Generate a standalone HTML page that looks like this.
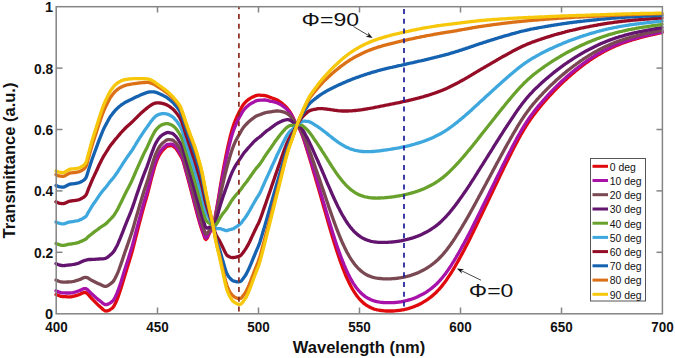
<!DOCTYPE html>
<html><head><meta charset="utf-8"><style>
html,body{margin:0;padding:0;background:#fff;}
body{width:675px;height:358px;overflow:hidden;}
svg{display:block;font-family:"Liberation Sans",sans-serif;}
</style></head><body>
<svg width="675" height="358" viewBox="0 0 675 358" xmlns="http://www.w3.org/2000/svg">
<rect width="675" height="358" fill="#fff"/>
<g fill="none" stroke-width="3.3" stroke-linejoin="round" stroke-linecap="round">
<path d="M56.0,294.5 L57.0,294.9 L58.0,295.3 L59.0,295.7 L60.0,296.0 L61.0,296.3 L62.0,296.5 L63.0,296.6 L64.0,296.6 L65.0,296.7 L66.0,296.7 L67.0,296.8 L68.0,296.8 L69.0,296.8 L70.0,296.8 L71.0,296.8 L72.0,296.6 L73.0,296.4 L74.0,296.2 L75.0,295.9 L76.0,295.6 L77.0,295.3 L78.0,295.0 L79.0,294.6 L80.0,294.2 L81.0,293.7 L82.0,293.2 L83.0,292.8 L84.0,292.5 L85.0,292.4 L86.0,292.6 L87.0,293.3 L88.0,294.3 L89.0,295.4 L90.0,296.6 L91.0,297.8 L92.0,298.9 L93.0,299.9 L94.0,300.9 L95.0,301.9 L96.0,302.9 L97.0,303.9 L98.0,304.9 L99.0,305.8 L100.0,306.7 L101.0,307.6 L102.0,308.5 L103.0,309.5 L104.0,310.2 L105.0,310.8 L106.0,311.0 L107.0,310.9 L108.0,310.6 L109.0,310.2 L110.0,309.7 L111.0,309.0 L112.0,308.3 L113.0,307.4 L114.0,306.0 L115.0,304.1 L116.0,302.0 L117.0,299.7 L118.0,297.2 L119.0,294.3 L120.0,291.3 L121.0,288.2 L122.0,285.0 L123.0,281.7 L124.0,278.3 L125.0,275.0 L126.0,271.7 L127.0,268.5 L128.0,265.3 L129.0,262.0 L130.0,258.7 L131.0,255.5 L132.0,252.0 L133.0,248.3 L134.0,244.4 L135.0,240.3 L136.0,236.3 L137.0,232.5 L138.0,228.6 L139.0,224.7 L140.0,220.9 L141.0,217.1 L142.0,213.3 L143.0,209.6 L144.0,206.0 L145.0,202.5 L146.0,199.2 L147.0,195.8 L148.0,192.1 L149.0,188.2 L150.0,184.1 L151.0,180.2 L152.0,176.4 L153.0,172.7 L154.0,169.0 L155.0,165.6 L156.0,162.7 L157.0,160.2 L158.0,157.8 L159.0,155.8 L160.0,154.0 L161.0,152.5 L162.0,151.2 L163.0,150.0 L164.0,149.0 L165.0,148.0 L166.0,147.1 L167.0,146.4 L168.0,146.0 L169.0,145.9 L170.0,145.8 L171.0,145.7 L172.0,145.7 L173.0,146.1 L174.0,146.8 L175.0,147.7 L176.0,148.7 L177.0,150.0 L178.0,151.5 L179.0,153.2 L180.0,154.8 L181.0,156.5 L182.0,158.4 L183.0,160.8 L184.0,164.0 L185.0,167.7 L186.0,171.5 L187.0,175.1 L188.0,178.8 L189.0,182.5 L190.0,186.3 L191.0,190.1 L192.0,194.0 L193.0,197.9 L194.0,201.8 L195.0,205.7 L196.0,209.5 L197.0,213.3 L198.0,217.0 L199.0,220.6 L200.0,224.0 L201.0,227.2 L202.0,230.2 L203.0,233.0 L204.0,235.8 L205.0,238.6 L206.0,239.5 L207.0,238.4 L208.0,236.4 L209.0,234.0 L210.0,232.1 L211.0,230.2 L212.0,228.3 L213.0,225.9 L214.0,222.8 L215.0,218.1 L216.0,212.5 L217.0,206.7 L218.0,201.0 L219.0,194.9 L220.0,188.7 L221.0,182.6 L222.0,176.9 L223.0,171.4 L224.0,165.9 L225.0,160.7 L226.0,155.6 L227.0,150.8 L228.0,146.2 L229.0,141.8 L230.0,137.5 L231.0,133.6 L232.0,130.0 L233.0,126.8 L234.0,123.9 L235.0,121.2 L236.0,118.8 L237.0,116.5 L238.0,114.4 L239.0,112.3 L240.0,110.4 L241.0,108.5 L242.0,106.7 L243.0,105.1 L244.0,103.8 L245.0,102.6 L246.0,101.6 L247.0,100.7 L248.0,99.9 L249.0,99.1 L250.0,98.5 L251.0,97.9 L252.0,97.3 L253.0,96.9 L254.0,96.4 L255.0,95.9 L256.0,95.6 L257.0,95.3 L258.0,95.2 L259.0,95.2 L260.0,95.2 L261.0,95.3 L262.0,95.3 L263.0,95.4 L264.0,95.5 L265.0,95.6 L266.0,95.8 L267.0,96.1 L268.0,96.5 L269.0,96.9 L270.0,97.3 L271.0,97.6 L272.0,98.0 L273.0,98.3 L274.0,98.7 L275.0,99.1 L276.0,99.5 L277.0,99.9 L278.0,100.5 L279.0,101.1 L280.0,101.8 L281.0,102.5 L282.0,103.3 L283.0,104.2 L284.0,105.0 L285.0,106.0 L286.0,107.0 L287.0,108.0 L288.0,109.2 L289.0,110.5 L290.0,111.9 L291.0,113.5 L292.0,115.4 L293.0,117.5 L294.0,119.7 L295.0,121.8 L296.0,123.8 L297.0,125.5 L298.0,126.9 L299.0,128.3 L300.0,129.9 L301.0,132.0 L302.0,134.4 L303.0,137.2 L304.0,140.2 L305.0,143.3 L306.0,146.5 L307.0,149.7 L308.0,152.9 L309.0,156.2 L310.0,159.5 L311.0,162.9 L312.0,166.3 L313.0,169.7 L314.0,173.2 L315.0,176.6 L316.0,180.1 L317.0,183.5 L318.0,186.9 L319.0,190.4 L320.0,193.8 L321.0,197.4 L322.0,200.9 L323.0,204.4 L324.0,207.9 L325.0,211.4 L326.0,214.9 L327.0,218.4 L328.0,221.9 L329.0,225.3 L330.0,228.7 L331.0,232.1 L332.0,235.5 L333.0,238.8 L334.0,242.1 L335.0,245.3 L336.0,248.5 L337.0,251.6 L338.0,254.6 L339.0,257.5 L340.0,260.4 L341.0,263.2 L342.0,265.9 L343.0,268.6 L344.0,271.1 L345.0,273.6 L346.0,276.0 L347.0,278.3 L348.0,280.4 L349.0,282.5 L350.0,284.6 L351.0,286.5 L352.0,288.3 L353.0,290.0 L354.0,291.6 L355.0,293.1 L356.0,294.6 L357.0,296.0 L358.0,297.3 L359.0,298.5 L360.0,299.6 L361.0,300.7 L362.0,301.6 L363.0,302.6 L364.0,303.4 L365.0,304.2 L366.0,305.0 L367.0,305.6 L368.0,306.2 L369.0,306.8 L370.0,307.3 L371.0,307.8 L372.0,308.2 L373.0,308.6 L374.0,309.0 L375.0,309.3 L376.0,309.5 L377.0,309.8 L378.0,310.0 L379.0,310.2 L380.0,310.4 L381.0,310.5 L382.0,310.6 L383.0,310.7 L384.0,310.8 L385.0,310.9 L386.0,311.0 L387.0,311.0 L388.0,311.0 L389.0,311.0 L390.0,311.0 L391.0,311.0 L392.0,311.0 L393.0,311.0 L394.0,310.9 L395.0,310.8 L396.0,310.7 L397.0,310.7 L398.0,310.5 L399.0,310.4 L400.0,310.3 L401.0,310.1 L402.0,309.9 L403.0,309.8 L404.0,309.6 L405.0,309.3 L406.0,309.1 L407.0,308.8 L408.0,308.6 L409.0,308.3 L410.0,308.0 L411.0,307.7 L412.0,307.3 L413.0,307.0 L414.0,306.6 L415.0,306.2 L416.0,305.8 L417.0,305.4 L418.0,304.9 L419.0,304.4 L420.0,303.9 L421.0,303.4 L422.0,302.9 L423.0,302.3 L424.0,301.7 L425.0,301.1 L426.0,300.5 L427.0,299.8 L428.0,299.1 L429.0,298.4 L430.0,297.7 L431.0,296.9 L432.0,296.1 L433.0,295.2 L434.0,294.3 L435.0,293.4 L436.0,292.5 L437.0,291.5 L438.0,290.4 L439.0,289.4 L440.0,288.2 L441.0,287.1 L442.0,285.9 L443.0,284.6 L444.0,283.3 L445.0,282.0 L446.0,280.6 L447.0,279.2 L448.0,277.7 L449.0,276.2 L450.0,274.7 L451.0,273.1 L452.0,271.5 L453.0,269.8 L454.0,268.2 L455.0,266.5 L456.0,264.7 L457.0,263.0 L458.0,261.2 L459.0,259.4 L460.0,257.6 L461.0,255.7 L462.0,253.9 L463.0,252.0 L464.0,250.2 L465.0,248.3 L466.0,246.3 L467.0,244.4 L468.0,242.4 L469.0,240.5 L470.0,238.5 L471.0,236.5 L472.0,234.4 L473.0,232.4 L474.0,230.3 L475.0,228.2 L476.0,226.2 L477.0,224.1 L478.0,222.0 L479.0,219.9 L480.0,217.8 L481.0,215.7 L482.0,213.7 L483.0,211.6 L484.0,209.5 L485.0,207.4 L486.0,205.3 L487.0,203.2 L488.0,201.1 L489.0,199.0 L490.0,196.9 L491.0,194.8 L492.0,192.7 L493.0,190.6 L494.0,188.5 L495.0,186.4 L496.0,184.3 L497.0,182.2 L498.0,180.1 L499.0,178.0 L500.0,175.9 L501.0,173.8 L502.0,171.8 L503.0,169.7 L504.0,167.6 L505.0,165.6 L506.0,163.6 L507.0,161.5 L508.0,159.5 L509.0,157.5 L510.0,155.5 L511.0,153.5 L512.0,151.6 L513.0,149.6 L514.0,147.6 L515.0,145.7 L516.0,143.8 L517.0,141.9 L518.0,140.0 L519.0,138.1 L520.0,136.3 L521.0,134.5 L522.0,132.8 L523.0,131.1 L524.0,129.4 L525.0,127.8 L526.0,126.1 L527.0,124.6 L528.0,123.0 L529.0,121.5 L530.0,120.1 L531.0,118.6 L532.0,117.2 L533.0,115.9 L534.0,114.5 L535.0,113.2 L536.0,111.9 L537.0,110.6 L538.0,109.4 L539.0,108.1 L540.0,106.9 L541.0,105.7 L542.0,104.5 L543.0,103.3 L544.0,102.2 L545.0,101.0 L546.0,99.9 L547.0,98.7 L548.0,97.6 L549.0,96.5 L550.0,95.4 L551.0,94.3 L552.0,93.3 L553.0,92.2 L554.0,91.1 L555.0,90.1 L556.0,89.1 L557.0,88.0 L558.0,87.0 L559.0,86.0 L560.0,85.1 L561.0,84.1 L562.0,83.1 L563.0,82.2 L564.0,81.2 L565.0,80.3 L566.0,79.4 L567.0,78.5 L568.0,77.6 L569.0,76.7 L570.0,75.8 L571.0,74.9 L572.0,74.1 L573.0,73.2 L574.0,72.4 L575.0,71.5 L576.0,70.7 L577.0,69.9 L578.0,69.1 L579.0,68.3 L580.0,67.5 L581.0,66.8 L582.0,66.0 L583.0,65.2 L584.0,64.5 L585.0,63.8 L586.0,63.0 L587.0,62.3 L588.0,61.6 L589.0,60.9 L590.0,60.2 L591.0,59.5 L592.0,58.9 L593.0,58.2 L594.0,57.5 L595.0,56.9 L596.0,56.3 L597.0,55.7 L598.0,55.0 L599.0,54.4 L600.0,53.9 L601.0,53.3 L602.0,52.7 L603.0,52.2 L604.0,51.6 L605.0,51.1 L606.0,50.5 L607.0,50.0 L608.0,49.5 L609.0,49.0 L610.0,48.5 L611.0,48.0 L612.0,47.6 L613.0,47.1 L614.0,46.7 L615.0,46.2 L616.0,45.8 L617.0,45.4 L618.0,45.0 L619.0,44.6 L620.0,44.2 L621.0,43.8 L622.0,43.4 L623.0,43.0 L624.0,42.7 L625.0,42.3 L626.0,42.0 L627.0,41.6 L628.0,41.3 L629.0,40.9 L630.0,40.6 L631.0,40.3 L632.0,40.0 L633.0,39.7 L634.0,39.4 L635.0,39.1 L636.0,38.8 L637.0,38.5 L638.0,38.3 L639.0,38.0 L640.0,37.7 L641.0,37.4 L642.0,37.2 L643.0,36.9 L644.0,36.7 L645.0,36.4 L646.0,36.2 L647.0,35.9 L648.0,35.7 L649.0,35.5 L650.0,35.2 L651.0,35.0 L652.0,34.8 L653.0,34.5 L654.0,34.3 L655.0,34.1 L656.0,33.9 L657.0,33.6 L658.0,33.4 L659.0,33.2 L660.0,33.0 L661.0,32.8 L662.0,32.5" stroke="#e00a0e"/>
<path d="M56.0,290.8 L57.0,291.2 L58.0,291.6 L59.0,292.0 L60.0,292.3 L61.0,292.6 L62.0,292.8 L63.0,292.9 L64.0,292.9 L65.0,292.9 L66.0,293.0 L67.0,293.0 L68.0,293.0 L69.0,293.0 L70.0,293.0 L71.0,292.9 L72.0,292.8 L73.0,292.6 L74.0,292.3 L75.0,292.1 L76.0,291.8 L77.0,291.5 L78.0,291.2 L79.0,290.8 L80.0,290.4 L81.0,289.9 L82.0,289.4 L83.0,289.0 L84.0,288.7 L85.0,288.5 L86.0,288.7 L87.0,289.3 L88.0,290.1 L89.0,291.1 L90.0,292.2 L91.0,293.2 L92.0,294.1 L93.0,295.0 L94.0,295.9 L95.0,296.8 L96.0,297.7 L97.0,298.5 L98.0,299.4 L99.0,300.2 L100.0,300.9 L101.0,301.7 L102.0,302.5 L103.0,303.4 L104.0,304.0 L105.0,304.5 L106.0,304.6 L107.0,304.5 L108.0,304.1 L109.0,303.7 L110.0,303.1 L111.0,302.4 L112.0,301.6 L113.0,300.8 L114.0,299.4 L115.0,297.5 L116.0,295.4 L117.0,293.2 L118.0,290.7 L119.0,287.9 L120.0,284.9 L121.0,281.9 L122.0,278.8 L123.0,275.6 L124.0,272.3 L125.0,269.1 L126.0,265.9 L127.0,262.8 L128.0,259.7 L129.0,256.5 L130.0,253.3 L131.0,250.1 L132.0,246.8 L133.0,243.2 L134.0,239.4 L135.0,235.5 L136.0,231.6 L137.0,227.8 L138.0,224.1 L139.0,220.3 L140.0,216.6 L141.0,212.9 L142.0,209.3 L143.0,205.7 L144.0,202.2 L145.0,198.8 L146.0,195.6 L147.0,192.3 L148.0,188.7 L149.0,184.9 L150.0,181.0 L151.0,177.1 L152.0,173.5 L153.0,169.9 L154.0,166.4 L155.0,163.1 L156.0,160.3 L157.0,157.9 L158.0,155.6 L159.0,153.6 L160.0,151.9 L161.0,150.5 L162.0,149.3 L163.0,148.1 L164.0,147.2 L165.0,146.3 L166.0,145.4 L167.0,144.7 L168.0,144.4 L169.0,144.3 L170.0,144.2 L171.0,144.2 L172.0,144.2 L173.0,144.6 L174.0,145.3 L175.0,146.3 L176.0,147.2 L177.0,148.5 L178.0,150.0 L179.0,151.7 L180.0,153.3 L181.0,155.0 L182.0,157.0 L183.0,159.4 L184.0,162.6 L185.0,166.3 L186.0,170.0 L187.0,173.6 L188.0,177.3 L189.0,180.9 L190.0,184.7 L191.0,188.5 L192.0,192.3 L193.0,196.2 L194.0,200.1 L195.0,203.9 L196.0,207.7 L197.0,211.5 L198.0,215.2 L199.0,218.8 L200.0,222.2 L201.0,225.4 L202.0,228.4 L203.0,231.3 L204.0,234.2 L205.0,237.0 L206.0,238.0 L207.0,237.2 L208.0,235.3 L209.0,233.2 L210.0,231.4 L211.0,229.8 L212.0,228.1 L213.0,225.9 L214.0,223.0 L215.0,218.7 L216.0,213.4 L217.0,207.9 L218.0,202.5 L219.0,196.8 L220.0,190.9 L221.0,185.1 L222.0,179.7 L223.0,174.4 L224.0,169.3 L225.0,164.3 L226.0,159.5 L227.0,155.0 L228.0,150.6 L229.0,146.4 L230.0,142.4 L231.0,138.5 L232.0,135.1 L233.0,132.0 L234.0,129.2 L235.0,126.7 L236.0,124.3 L237.0,122.1 L238.0,120.1 L239.0,118.1 L240.0,116.2 L241.0,114.4 L242.0,112.6 L243.0,111.1 L244.0,109.7 L245.0,108.5 L246.0,107.5 L247.0,106.6 L248.0,105.7 L249.0,104.9 L250.0,104.2 L251.0,103.5 L252.0,102.9 L253.0,102.4 L254.0,101.9 L255.0,101.3 L256.0,100.9 L257.0,100.6 L258.0,100.4 L259.0,100.3 L260.0,100.2 L261.0,100.2 L262.0,100.1 L263.0,100.1 L264.0,100.0 L265.0,100.0 L266.0,100.1 L267.0,100.3 L268.0,100.5 L269.0,100.8 L270.0,101.1 L271.0,101.3 L272.0,101.5 L273.0,101.7 L274.0,101.9 L275.0,102.2 L276.0,102.5 L277.0,102.8 L278.0,103.2 L279.0,103.7 L280.0,104.2 L281.0,104.8 L282.0,105.5 L283.0,106.1 L284.0,106.9 L285.0,107.7 L286.0,108.5 L287.0,109.5 L288.0,110.5 L289.0,111.6 L290.0,112.9 L291.0,114.3 L292.0,116.1 L293.0,118.1 L294.0,120.1 L295.0,122.1 L296.0,123.9 L297.0,125.5 L298.0,126.8 L299.0,128.1 L300.0,129.5 L301.0,131.4 L302.0,133.8 L303.0,136.4 L304.0,139.2 L305.0,142.2 L306.0,145.2 L307.0,148.2 L308.0,151.3 L309.0,154.4 L310.0,157.6 L311.0,160.8 L312.0,164.1 L313.0,167.4 L314.0,170.7 L315.0,174.0 L316.0,177.3 L317.0,180.5 L318.0,183.8 L319.0,187.1 L320.0,190.5 L321.0,193.8 L322.0,197.2 L323.0,200.6 L324.0,204.0 L325.0,207.3 L326.0,210.7 L327.0,214.0 L328.0,217.4 L329.0,220.7 L330.0,224.0 L331.0,227.2 L332.0,230.5 L333.0,233.7 L334.0,236.8 L335.0,239.9 L336.0,242.9 L337.0,245.9 L338.0,248.8 L339.0,251.6 L340.0,254.4 L341.0,257.1 L342.0,259.7 L343.0,262.2 L344.0,264.7 L345.0,267.0 L346.0,269.3 L347.0,271.5 L348.0,273.6 L349.0,275.6 L350.0,277.6 L351.0,279.4 L352.0,281.1 L353.0,282.8 L354.0,284.3 L355.0,285.8 L356.0,287.2 L357.0,288.5 L358.0,289.7 L359.0,290.9 L360.0,292.0 L361.0,293.0 L362.0,293.9 L363.0,294.8 L364.0,295.6 L365.0,296.4 L366.0,297.1 L367.0,297.7 L368.0,298.3 L369.0,298.8 L370.0,299.3 L371.0,299.8 L372.0,300.2 L373.0,300.5 L374.0,300.9 L375.0,301.1 L376.0,301.4 L377.0,301.6 L378.0,301.8 L379.0,302.0 L380.0,302.2 L381.0,302.3 L382.0,302.4 L383.0,302.5 L384.0,302.6 L385.0,302.6 L386.0,302.7 L387.0,302.7 L388.0,302.7 L389.0,302.7 L390.0,302.7 L391.0,302.7 L392.0,302.7 L393.0,302.6 L394.0,302.6 L395.0,302.5 L396.0,302.4 L397.0,302.3 L398.0,302.2 L399.0,302.1 L400.0,301.9 L401.0,301.8 L402.0,301.6 L403.0,301.4 L404.0,301.2 L405.0,301.0 L406.0,300.7 L407.0,300.5 L408.0,300.2 L409.0,299.9 L410.0,299.6 L411.0,299.3 L412.0,299.0 L413.0,298.6 L414.0,298.3 L415.0,297.9 L416.0,297.5 L417.0,297.0 L418.0,296.6 L419.0,296.1 L420.0,295.6 L421.0,295.1 L422.0,294.6 L423.0,294.1 L424.0,293.5 L425.0,292.9 L426.0,292.3 L427.0,291.6 L428.0,290.9 L429.0,290.2 L430.0,289.5 L431.0,288.7 L432.0,287.9 L433.0,287.1 L434.0,286.2 L435.0,285.4 L436.0,284.4 L437.0,283.5 L438.0,282.5 L439.0,281.4 L440.0,280.3 L441.0,279.2 L442.0,278.0 L443.0,276.8 L444.0,275.5 L445.0,274.2 L446.0,272.9 L447.0,271.5 L448.0,270.1 L449.0,268.6 L450.0,267.1 L451.0,265.6 L452.0,264.0 L453.0,262.4 L454.0,260.8 L455.0,259.1 L456.0,257.5 L457.0,255.7 L458.0,254.0 L459.0,252.3 L460.0,250.5 L461.0,248.7 L462.0,246.9 L463.0,245.1 L464.0,243.3 L465.0,241.4 L466.0,239.6 L467.0,237.7 L468.0,235.8 L469.0,233.9 L470.0,231.9 L471.0,230.0 L472.0,228.0 L473.0,226.0 L474.0,224.0 L475.0,222.0 L476.0,220.0 L477.0,218.0 L478.0,215.9 L479.0,213.9 L480.0,211.9 L481.0,209.9 L482.0,207.8 L483.0,205.8 L484.0,203.8 L485.0,201.8 L486.0,199.7 L487.0,197.7 L488.0,195.7 L489.0,193.6 L490.0,191.6 L491.0,189.6 L492.0,187.5 L493.0,185.5 L494.0,183.4 L495.0,181.4 L496.0,179.3 L497.0,177.3 L498.0,175.2 L499.0,173.2 L500.0,171.2 L501.0,169.2 L502.0,167.1 L503.0,165.1 L504.0,163.2 L505.0,161.2 L506.0,159.2 L507.0,157.2 L508.0,155.3 L509.0,153.3 L510.0,151.4 L511.0,149.5 L512.0,147.5 L513.0,145.6 L514.0,143.7 L515.0,141.8 L516.0,140.0 L517.0,138.1 L518.0,136.3 L519.0,134.5 L520.0,132.8 L521.0,131.0 L522.0,129.3 L523.0,127.7 L524.0,126.0 L525.0,124.4 L526.0,122.9 L527.0,121.3 L528.0,119.9 L529.0,118.4 L530.0,117.0 L531.0,115.6 L532.0,114.2 L533.0,112.9 L534.0,111.6 L535.0,110.3 L536.0,109.0 L537.0,107.8 L538.0,106.6 L539.0,105.4 L540.0,104.2 L541.0,103.0 L542.0,101.9 L543.0,100.7 L544.0,99.6 L545.0,98.5 L546.0,97.4 L547.0,96.3 L548.0,95.2 L549.0,94.1 L550.0,93.0 L551.0,92.0 L552.0,90.9 L553.0,89.9 L554.0,88.9 L555.0,87.9 L556.0,86.9 L557.0,85.9 L558.0,84.9 L559.0,83.9 L560.0,83.0 L561.0,82.0 L562.0,81.1 L563.0,80.2 L564.0,79.3 L565.0,78.3 L566.0,77.5 L567.0,76.6 L568.0,75.7 L569.0,74.8 L570.0,74.0 L571.0,73.1 L572.0,72.3 L573.0,71.5 L574.0,70.7 L575.0,69.9 L576.0,69.1 L577.0,68.3 L578.0,67.5 L579.0,66.7 L580.0,66.0 L581.0,65.2 L582.0,64.5 L583.0,63.7 L584.0,63.0 L585.0,62.3 L586.0,61.6 L587.0,60.9 L588.0,60.2 L589.0,59.5 L590.0,58.8 L591.0,58.2 L592.0,57.5 L593.0,56.9 L594.0,56.3 L595.0,55.6 L596.0,55.0 L597.0,54.4 L598.0,53.8 L599.0,53.3 L600.0,52.7 L601.0,52.1 L602.0,51.6 L603.0,51.0 L604.0,50.5 L605.0,50.0 L606.0,49.5 L607.0,49.0 L608.0,48.5 L609.0,48.0 L610.0,47.5 L611.0,47.0 L612.0,46.6 L613.0,46.1 L614.0,45.7 L615.0,45.3 L616.0,44.8 L617.0,44.4 L618.0,44.0 L619.0,43.6 L620.0,43.3 L621.0,42.9 L622.0,42.5 L623.0,42.1 L624.0,41.8 L625.0,41.4 L626.0,41.1 L627.0,40.8 L628.0,40.4 L629.0,40.1 L630.0,39.8 L631.0,39.5 L632.0,39.2 L633.0,38.9 L634.0,38.6 L635.0,38.3 L636.0,38.1 L637.0,37.8 L638.0,37.5 L639.0,37.2 L640.0,37.0 L641.0,36.7 L642.0,36.5 L643.0,36.2 L644.0,36.0 L645.0,35.7 L646.0,35.5 L647.0,35.3 L648.0,35.0 L649.0,34.8 L650.0,34.6 L651.0,34.3 L652.0,34.1 L653.0,33.9 L654.0,33.7 L655.0,33.5 L656.0,33.2 L657.0,33.0 L658.0,32.8 L659.0,32.6 L660.0,32.4 L661.0,32.2 L662.0,32.0" stroke="#a812a8"/>
<path d="M56.0,280.0 L57.0,280.5 L58.0,280.9 L59.0,281.3 L60.0,281.6 L61.0,281.8 L62.0,282.0 L63.0,282.1 L64.0,282.1 L65.0,282.1 L66.0,282.1 L67.0,282.0 L68.0,282.0 L69.0,281.9 L70.0,281.9 L71.0,281.8 L72.0,281.7 L73.0,281.5 L74.0,281.3 L75.0,281.0 L76.0,280.7 L77.0,280.4 L78.0,280.2 L79.0,279.8 L80.0,279.4 L81.0,278.9 L82.0,278.4 L83.0,278.0 L84.0,277.6 L85.0,277.4 L86.0,277.4 L87.0,277.6 L88.0,278.0 L89.0,278.6 L90.0,279.3 L91.0,279.9 L92.0,280.4 L93.0,280.9 L94.0,281.4 L95.0,282.0 L96.0,282.5 L97.0,283.0 L98.0,283.5 L99.0,283.9 L100.0,284.3 L101.0,284.8 L102.0,285.3 L103.0,285.7 L104.0,286.1 L105.0,286.3 L106.0,286.3 L107.0,286.0 L108.0,285.5 L109.0,284.9 L110.0,284.2 L111.0,283.4 L112.0,282.6 L113.0,281.7 L114.0,280.3 L115.0,278.5 L116.0,276.5 L117.0,274.4 L118.0,272.1 L119.0,269.5 L120.0,266.7 L121.0,263.9 L122.0,261.1 L123.0,258.1 L124.0,255.1 L125.0,252.1 L126.0,249.2 L127.0,246.4 L128.0,243.5 L129.0,240.6 L130.0,237.7 L131.0,234.8 L132.0,231.7 L133.0,228.4 L134.0,225.0 L135.0,221.4 L136.0,217.9 L137.0,214.5 L138.0,211.1 L139.0,207.6 L140.0,204.2 L141.0,200.9 L142.0,197.6 L143.0,194.3 L144.0,191.1 L145.0,188.1 L146.0,185.1 L147.0,182.1 L148.0,178.9 L149.0,175.4 L150.0,171.9 L151.0,168.5 L152.0,165.2 L153.0,162.0 L154.0,158.8 L155.0,155.9 L156.0,153.4 L157.0,151.2 L158.0,149.3 L159.0,147.5 L160.0,146.0 L161.0,144.8 L162.0,143.7 L163.0,142.8 L164.0,142.0 L165.0,141.2 L166.0,140.5 L167.0,139.9 L168.0,139.7 L169.0,139.7 L170.0,139.7 L171.0,139.8 L172.0,139.9 L173.0,140.3 L174.0,141.1 L175.0,142.1 L176.0,143.0 L177.0,144.3 L178.0,145.8 L179.0,147.5 L180.0,149.1 L181.0,150.8 L182.0,152.8 L183.0,155.3 L184.0,158.4 L185.0,162.1 L186.0,165.8 L187.0,169.3 L188.0,172.9 L189.0,176.5 L190.0,180.1 L191.0,183.8 L192.0,187.6 L193.0,191.3 L194.0,195.1 L195.0,198.8 L196.0,202.6 L197.0,206.3 L198.0,210.0 L199.0,213.6 L200.0,217.0 L201.0,220.2 L202.0,223.4 L203.0,226.4 L204.0,229.6 L205.0,232.6 L206.0,234.0 L207.0,233.6 L208.0,232.4 L209.0,230.9 L210.0,229.7 L211.0,228.6 L212.0,227.4 L213.0,225.9 L214.0,223.7 L215.0,220.3 L216.0,216.0 L217.0,211.4 L218.0,206.8 L219.0,202.0 L220.0,197.0 L221.0,192.1 L222.0,187.6 L223.0,183.3 L224.0,179.0 L225.0,174.9 L226.0,170.9 L227.0,167.1 L228.0,163.3 L229.0,159.7 L230.0,156.2 L231.0,152.9 L232.0,149.9 L233.0,147.2 L234.0,144.7 L235.0,142.4 L236.0,140.3 L237.0,138.4 L238.0,136.6 L239.0,134.8 L240.0,133.1 L241.0,131.3 L242.0,129.7 L243.0,128.1 L244.0,126.8 L245.0,125.6 L246.0,124.5 L247.0,123.5 L248.0,122.5 L249.0,121.6 L250.0,120.7 L251.0,119.8 L252.0,119.1 L253.0,118.3 L254.0,117.6 L255.0,116.9 L256.0,116.2 L257.0,115.7 L258.0,115.3 L259.0,115.0 L260.0,114.7 L261.0,114.3 L262.0,113.9 L263.0,113.5 L264.0,113.1 L265.0,112.8 L266.0,112.5 L267.0,112.3 L268.0,112.2 L269.0,112.1 L270.0,111.9 L271.0,111.8 L272.0,111.6 L273.0,111.4 L274.0,111.3 L275.0,111.1 L276.0,111.0 L277.0,111.0 L278.0,111.0 L279.0,111.1 L280.0,111.2 L281.0,111.4 L282.0,111.6 L283.0,111.9 L284.0,112.2 L285.0,112.5 L286.0,113.0 L287.0,113.5 L288.0,114.1 L289.0,114.9 L290.0,115.8 L291.0,116.8 L292.0,118.2 L293.0,119.7 L294.0,121.3 L295.0,122.9 L296.0,124.3 L297.0,125.4 L298.0,126.4 L299.0,127.3 L300.0,128.4 L301.0,129.9 L302.0,131.9 L303.0,134.0 L304.0,136.4 L305.0,138.9 L306.0,141.5 L307.0,144.0 L308.0,146.6 L309.0,149.3 L310.0,152.0 L311.0,154.8 L312.0,157.7 L313.0,160.6 L314.0,163.4 L315.0,166.3 L316.0,169.2 L317.0,172.1 L318.0,175.0 L319.0,177.8 L320.0,180.8 L321.0,183.7 L322.0,186.7 L323.0,189.6 L324.0,192.6 L325.0,195.6 L326.0,198.5 L327.0,201.5 L328.0,204.4 L329.0,207.4 L330.0,210.3 L331.0,213.1 L332.0,216.0 L333.0,218.8 L334.0,221.6 L335.0,224.3 L336.0,227.0 L337.0,229.6 L338.0,232.2 L339.0,234.7 L340.0,237.1 L341.0,239.5 L342.0,241.8 L343.0,244.0 L344.0,246.1 L345.0,248.2 L346.0,250.2 L347.0,252.2 L348.0,254.0 L349.0,255.8 L350.0,257.5 L351.0,259.1 L352.0,260.6 L353.0,262.0 L354.0,263.4 L355.0,264.7 L356.0,265.9 L357.0,267.0 L358.0,268.1 L359.0,269.1 L360.0,270.0 L361.0,270.9 L362.0,271.7 L363.0,272.5 L364.0,273.2 L365.0,273.8 L366.0,274.4 L367.0,274.9 L368.0,275.4 L369.0,275.9 L370.0,276.3 L371.0,276.7 L372.0,277.0 L373.0,277.3 L374.0,277.5 L375.0,277.8 L376.0,278.0 L377.0,278.2 L378.0,278.3 L379.0,278.4 L380.0,278.5 L381.0,278.6 L382.0,278.7 L383.0,278.8 L384.0,278.8 L385.0,278.8 L386.0,278.9 L387.0,278.9 L388.0,278.9 L389.0,278.8 L390.0,278.8 L391.0,278.8 L392.0,278.7 L393.0,278.6 L394.0,278.6 L395.0,278.5 L396.0,278.4 L397.0,278.3 L398.0,278.1 L399.0,278.0 L400.0,277.8 L401.0,277.7 L402.0,277.5 L403.0,277.3 L404.0,277.1 L405.0,276.9 L406.0,276.6 L407.0,276.4 L408.0,276.1 L409.0,275.9 L410.0,275.6 L411.0,275.3 L412.0,274.9 L413.0,274.6 L414.0,274.2 L415.0,273.9 L416.0,273.5 L417.0,273.1 L418.0,272.7 L419.0,272.2 L420.0,271.8 L421.0,271.3 L422.0,270.8 L423.0,270.3 L424.0,269.7 L425.0,269.2 L426.0,268.6 L427.0,268.0 L428.0,267.3 L429.0,266.7 L430.0,266.0 L431.0,265.3 L432.0,264.5 L433.0,263.8 L434.0,263.0 L435.0,262.2 L436.0,261.3 L437.0,260.4 L438.0,259.5 L439.0,258.5 L440.0,257.5 L441.0,256.5 L442.0,255.4 L443.0,254.3 L444.0,253.1 L445.0,251.9 L446.0,250.7 L447.0,249.4 L448.0,248.1 L449.0,246.8 L450.0,245.4 L451.0,244.0 L452.0,242.5 L453.0,241.1 L454.0,239.6 L455.0,238.1 L456.0,236.5 L457.0,234.9 L458.0,233.4 L459.0,231.8 L460.0,230.1 L461.0,228.5 L462.0,226.9 L463.0,225.2 L464.0,223.5 L465.0,221.8 L466.0,220.1 L467.0,218.4 L468.0,216.7 L469.0,214.9 L470.0,213.1 L471.0,211.3 L472.0,209.5 L473.0,207.7 L474.0,205.9 L475.0,204.0 L476.0,202.2 L477.0,200.3 L478.0,198.5 L479.0,196.6 L480.0,194.8 L481.0,192.9 L482.0,191.1 L483.0,189.2 L484.0,187.4 L485.0,185.5 L486.0,183.7 L487.0,181.8 L488.0,179.9 L489.0,178.1 L490.0,176.2 L491.0,174.3 L492.0,172.5 L493.0,170.6 L494.0,168.7 L495.0,166.9 L496.0,165.0 L497.0,163.1 L498.0,161.3 L499.0,159.4 L500.0,157.6 L501.0,155.7 L502.0,153.9 L503.0,152.1 L504.0,150.2 L505.0,148.4 L506.0,146.6 L507.0,144.8 L508.0,143.0 L509.0,141.3 L510.0,139.5 L511.0,137.7 L512.0,136.0 L513.0,134.2 L514.0,132.5 L515.0,130.8 L516.0,129.1 L517.0,127.4 L518.0,125.7 L519.0,124.1 L520.0,122.5 L521.0,120.9 L522.0,119.3 L523.0,117.8 L524.0,116.3 L525.0,114.9 L526.0,113.5 L527.0,112.1 L528.0,110.7 L529.0,109.4 L530.0,108.1 L531.0,106.8 L532.0,105.6 L533.0,104.3 L534.0,103.1 L535.0,102.0 L536.0,100.8 L537.0,99.7 L538.0,98.6 L539.0,97.5 L540.0,96.4 L541.0,95.3 L542.0,94.3 L543.0,93.2 L544.0,92.2 L545.0,91.2 L546.0,90.1 L547.0,89.1 L548.0,88.1 L549.0,87.2 L550.0,86.2 L551.0,85.2 L552.0,84.3 L553.0,83.3 L554.0,82.4 L555.0,81.5 L556.0,80.5 L557.0,79.6 L558.0,78.7 L559.0,77.9 L560.0,77.0 L561.0,76.1 L562.0,75.3 L563.0,74.4 L564.0,73.6 L565.0,72.8 L566.0,71.9 L567.0,71.1 L568.0,70.3 L569.0,69.5 L570.0,68.8 L571.0,68.0 L572.0,67.2 L573.0,66.5 L574.0,65.7 L575.0,65.0 L576.0,64.3 L577.0,63.5 L578.0,62.8 L579.0,62.1 L580.0,61.4 L581.0,60.7 L582.0,60.1 L583.0,59.4 L584.0,58.7 L585.0,58.1 L586.0,57.4 L587.0,56.8 L588.0,56.2 L589.0,55.5 L590.0,54.9 L591.0,54.3 L592.0,53.7 L593.0,53.1 L594.0,52.6 L595.0,52.0 L596.0,51.4 L597.0,50.9 L598.0,50.3 L599.0,49.8 L600.0,49.3 L601.0,48.8 L602.0,48.3 L603.0,47.8 L604.0,47.3 L605.0,46.8 L606.0,46.3 L607.0,45.9 L608.0,45.4 L609.0,45.0 L610.0,44.5 L611.0,44.1 L612.0,43.7 L613.0,43.3 L614.0,42.9 L615.0,42.5 L616.0,42.1 L617.0,41.7 L618.0,41.4 L619.0,41.0 L620.0,40.6 L621.0,40.3 L622.0,40.0 L623.0,39.6 L624.0,39.3 L625.0,39.0 L626.0,38.7 L627.0,38.4 L628.0,38.1 L629.0,37.8 L630.0,37.5 L631.0,37.2 L632.0,36.9 L633.0,36.7 L634.0,36.4 L635.0,36.1 L636.0,35.9 L637.0,35.6 L638.0,35.4 L639.0,35.1 L640.0,34.9 L641.0,34.6 L642.0,34.4 L643.0,34.2 L644.0,34.0 L645.0,33.7 L646.0,33.5 L647.0,33.3 L648.0,33.1 L649.0,32.9 L650.0,32.7 L651.0,32.5 L652.0,32.3 L653.0,32.0 L654.0,31.8 L655.0,31.6 L656.0,31.4 L657.0,31.2 L658.0,31.0 L659.0,30.9 L660.0,30.7 L661.0,30.5 L662.0,30.3" stroke="#7a4852"/>
<path d="M56.0,263.6 L57.0,264.1 L58.0,264.5 L59.0,264.8 L60.0,265.1 L61.0,265.4 L62.0,265.5 L63.0,265.6 L64.0,265.6 L65.0,265.5 L66.0,265.4 L67.0,265.2 L68.0,265.1 L69.0,265.0 L70.0,264.9 L71.0,264.8 L72.0,264.7 L73.0,264.5 L74.0,264.3 L75.0,264.1 L76.0,263.8 L77.0,263.6 L78.0,263.3 L79.0,263.0 L80.0,262.5 L81.0,262.0 L82.0,261.5 L83.0,261.1 L84.0,260.7 L85.0,260.3 L86.0,260.1 L87.0,259.8 L88.0,259.6 L89.0,259.5 L90.0,259.5 L91.0,259.5 L92.0,259.4 L93.0,259.3 L94.0,259.3 L95.0,259.3 L96.0,259.2 L97.0,259.2 L98.0,259.1 L99.0,259.0 L100.0,258.9 L101.0,258.8 L102.0,258.8 L103.0,258.8 L104.0,258.7 L105.0,258.5 L106.0,258.2 L107.0,257.6 L108.0,256.9 L109.0,256.0 L110.0,255.2 L111.0,254.3 L112.0,253.4 L113.0,252.4 L114.0,251.1 L115.0,249.4 L116.0,247.5 L117.0,245.7 L118.0,243.6 L119.0,241.2 L120.0,238.8 L121.0,236.4 L122.0,233.9 L123.0,231.3 L124.0,228.7 L125.0,226.2 L126.0,223.7 L127.0,221.2 L128.0,218.7 L129.0,216.3 L130.0,213.8 L131.0,211.3 L132.0,208.7 L133.0,205.9 L134.0,202.9 L135.0,199.9 L136.0,196.9 L137.0,194.0 L138.0,191.1 L139.0,188.2 L140.0,185.3 L141.0,182.5 L142.0,179.6 L143.0,176.9 L144.0,174.2 L145.0,171.6 L146.0,169.1 L147.0,166.6 L148.0,163.8 L149.0,161.0 L150.0,158.0 L151.0,155.1 L152.0,152.4 L153.0,149.8 L154.0,147.2 L155.0,144.8 L156.0,142.8 L157.0,141.1 L158.0,139.5 L159.0,138.1 L160.0,137.0 L161.0,136.0 L162.0,135.2 L163.0,134.5 L164.0,134.0 L165.0,133.4 L166.0,132.9 L167.0,132.6 L168.0,132.5 L169.0,132.6 L170.0,132.8 L171.0,133.0 L172.0,133.3 L173.0,133.8 L174.0,134.6 L175.0,135.6 L176.0,136.6 L177.0,137.9 L178.0,139.3 L179.0,141.0 L180.0,142.6 L181.0,144.4 L182.0,146.5 L183.0,149.0 L184.0,152.1 L185.0,155.7 L186.0,159.2 L187.0,162.7 L188.0,166.1 L189.0,169.6 L190.0,173.1 L191.0,176.7 L192.0,180.2 L193.0,183.8 L194.0,187.4 L195.0,191.0 L196.0,194.7 L197.0,198.3 L198.0,202.0 L199.0,205.5 L200.0,209.0 L201.0,212.3 L202.0,215.6 L203.0,218.9 L204.0,222.4 L205.0,225.8 L206.0,227.7 L207.0,228.1 L208.0,227.8 L209.0,227.3 L210.0,227.0 L211.0,226.7 L212.0,226.4 L213.0,225.8 L214.0,224.8 L215.0,222.7 L216.0,219.9 L217.0,216.7 L218.0,213.4 L219.0,209.9 L220.0,206.4 L221.0,203.0 L222.0,199.9 L223.0,196.8 L224.0,193.9 L225.0,191.1 L226.0,188.3 L227.0,185.6 L228.0,182.8 L229.0,180.1 L230.0,177.4 L231.0,174.8 L232.0,172.5 L233.0,170.4 L234.0,168.4 L235.0,166.6 L236.0,164.9 L237.0,163.3 L238.0,161.8 L239.0,160.3 L240.0,158.9 L241.0,157.4 L242.0,155.8 L243.0,154.3 L244.0,152.9 L245.0,151.7 L246.0,150.6 L247.0,149.4 L248.0,148.2 L249.0,147.1 L250.0,146.0 L251.0,144.8 L252.0,143.8 L253.0,142.7 L254.0,141.7 L255.0,140.7 L256.0,139.8 L257.0,138.9 L258.0,138.2 L259.0,137.5 L260.0,136.7 L261.0,135.9 L262.0,135.0 L263.0,134.0 L264.0,133.2 L265.0,132.3 L266.0,131.4 L267.0,130.7 L268.0,130.0 L269.0,129.3 L270.0,128.6 L271.0,127.8 L272.0,127.1 L273.0,126.3 L274.0,125.6 L275.0,124.9 L276.0,124.2 L277.0,123.6 L278.0,123.0 L279.0,122.4 L280.0,121.9 L281.0,121.5 L282.0,121.0 L283.0,120.6 L284.0,120.3 L285.0,120.0 L286.0,119.8 L287.0,119.7 L288.0,119.7 L289.0,119.9 L290.0,120.2 L291.0,120.7 L292.0,121.5 L293.0,122.3 L294.0,123.2 L295.0,124.1 L296.0,124.8 L297.0,125.4 L298.0,125.8 L299.0,126.2 L300.0,126.7 L301.0,127.7 L302.0,128.9 L303.0,130.4 L304.0,132.1 L305.0,133.9 L306.0,135.8 L307.0,137.6 L308.0,139.5 L309.0,141.5 L310.0,143.6 L311.0,145.7 L312.0,147.9 L313.0,150.1 L314.0,152.4 L315.0,154.6 L316.0,156.9 L317.0,159.1 L318.0,161.3 L319.0,163.6 L320.0,165.9 L321.0,168.2 L322.0,170.5 L323.0,172.9 L324.0,175.2 L325.0,177.6 L326.0,179.9 L327.0,182.3 L328.0,184.6 L329.0,186.9 L330.0,189.2 L331.0,191.5 L332.0,193.8 L333.0,196.0 L334.0,198.2 L335.0,200.4 L336.0,202.5 L337.0,204.6 L338.0,206.7 L339.0,208.6 L340.0,210.6 L341.0,212.4 L342.0,214.3 L343.0,216.0 L344.0,217.7 L345.0,219.4 L346.0,221.0 L347.0,222.5 L348.0,224.0 L349.0,225.3 L350.0,226.7 L351.0,227.9 L352.0,229.1 L353.0,230.2 L354.0,231.3 L355.0,232.3 L356.0,233.2 L357.0,234.1 L358.0,234.9 L359.0,235.7 L360.0,236.4 L361.0,237.1 L362.0,237.7 L363.0,238.2 L364.0,238.7 L365.0,239.2 L366.0,239.7 L367.0,240.0 L368.0,240.4 L369.0,240.7 L370.0,241.0 L371.0,241.3 L372.0,241.5 L373.0,241.7 L374.0,241.8 L375.0,242.0 L376.0,242.1 L377.0,242.2 L378.0,242.3 L379.0,242.3 L380.0,242.4 L381.0,242.4 L382.0,242.4 L383.0,242.4 L384.0,242.4 L385.0,242.4 L386.0,242.4 L387.0,242.3 L388.0,242.3 L389.0,242.2 L390.0,242.2 L391.0,242.1 L392.0,242.0 L393.0,241.9 L394.0,241.8 L395.0,241.7 L396.0,241.6 L397.0,241.4 L398.0,241.3 L399.0,241.1 L400.0,241.0 L401.0,240.8 L402.0,240.6 L403.0,240.4 L404.0,240.2 L405.0,240.0 L406.0,239.7 L407.0,239.5 L408.0,239.2 L409.0,239.0 L410.0,238.7 L411.0,238.4 L412.0,238.1 L413.0,237.8 L414.0,237.4 L415.0,237.1 L416.0,236.7 L417.0,236.4 L418.0,236.0 L419.0,235.6 L420.0,235.2 L421.0,234.7 L422.0,234.3 L423.0,233.8 L424.0,233.3 L425.0,232.8 L426.0,232.3 L427.0,231.7 L428.0,231.2 L429.0,230.6 L430.0,230.0 L431.0,229.4 L432.0,228.7 L433.0,228.0 L434.0,227.3 L435.0,226.6 L436.0,225.9 L437.0,225.1 L438.0,224.3 L439.0,223.4 L440.0,222.6 L441.0,221.6 L442.0,220.7 L443.0,219.7 L444.0,218.7 L445.0,217.7 L446.0,216.6 L447.0,215.5 L448.0,214.4 L449.0,213.2 L450.0,212.1 L451.0,210.8 L452.0,209.6 L453.0,208.3 L454.0,207.1 L455.0,205.7 L456.0,204.4 L457.0,203.1 L458.0,201.7 L459.0,200.3 L460.0,198.9 L461.0,197.5 L462.0,196.1 L463.0,194.7 L464.0,193.2 L465.0,191.8 L466.0,190.3 L467.0,188.8 L468.0,187.3 L469.0,185.8 L470.0,184.3 L471.0,182.7 L472.0,181.2 L473.0,179.6 L474.0,178.1 L475.0,176.5 L476.0,174.9 L477.0,173.3 L478.0,171.7 L479.0,170.1 L480.0,168.5 L481.0,166.9 L482.0,165.4 L483.0,163.8 L484.0,162.2 L485.0,160.6 L486.0,159.0 L487.0,157.4 L488.0,155.8 L489.0,154.2 L490.0,152.7 L491.0,151.1 L492.0,149.5 L493.0,147.9 L494.0,146.2 L495.0,144.6 L496.0,143.0 L497.0,141.5 L498.0,139.9 L499.0,138.3 L500.0,136.7 L501.0,135.1 L502.0,133.6 L503.0,132.0 L504.0,130.4 L505.0,128.9 L506.0,127.4 L507.0,125.8 L508.0,124.3 L509.0,122.8 L510.0,121.3 L511.0,119.8 L512.0,118.3 L513.0,116.8 L514.0,115.3 L515.0,113.8 L516.0,112.4 L517.0,110.9 L518.0,109.5 L519.0,108.1 L520.0,106.7 L521.0,105.4 L522.0,104.0 L523.0,102.7 L524.0,101.5 L525.0,100.2 L526.0,99.0 L527.0,97.8 L528.0,96.7 L529.0,95.5 L530.0,94.4 L531.0,93.3 L532.0,92.3 L533.0,91.2 L534.0,90.2 L535.0,89.2 L536.0,88.2 L537.0,87.3 L538.0,86.3 L539.0,85.4 L540.0,84.4 L541.0,83.5 L542.0,82.6 L543.0,81.7 L544.0,80.8 L545.0,80.0 L546.0,79.1 L547.0,78.2 L548.0,77.4 L549.0,76.5 L550.0,75.7 L551.0,74.9 L552.0,74.0 L553.0,73.2 L554.0,72.4 L555.0,71.6 L556.0,70.9 L557.0,70.1 L558.0,69.3 L559.0,68.6 L560.0,67.8 L561.0,67.1 L562.0,66.3 L563.0,65.6 L564.0,64.9 L565.0,64.2 L566.0,63.5 L567.0,62.8 L568.0,62.1 L569.0,61.4 L570.0,60.8 L571.0,60.1 L572.0,59.5 L573.0,58.8 L574.0,58.2 L575.0,57.5 L576.0,56.9 L577.0,56.3 L578.0,55.7 L579.0,55.1 L580.0,54.5 L581.0,53.9 L582.0,53.3 L583.0,52.8 L584.0,52.2 L585.0,51.6 L586.0,51.1 L587.0,50.5 L588.0,50.0 L589.0,49.5 L590.0,48.9 L591.0,48.4 L592.0,47.9 L593.0,47.4 L594.0,46.9 L595.0,46.4 L596.0,45.9 L597.0,45.5 L598.0,45.0 L599.0,44.5 L600.0,44.1 L601.0,43.6 L602.0,43.2 L603.0,42.8 L604.0,42.4 L605.0,42.0 L606.0,41.5 L607.0,41.2 L608.0,40.8 L609.0,40.4 L610.0,40.0 L611.0,39.6 L612.0,39.3 L613.0,38.9 L614.0,38.6 L615.0,38.2 L616.0,37.9 L617.0,37.6 L618.0,37.3 L619.0,36.9 L620.0,36.6 L621.0,36.3 L622.0,36.1 L623.0,35.8 L624.0,35.5 L625.0,35.2 L626.0,34.9 L627.0,34.7 L628.0,34.4 L629.0,34.2 L630.0,33.9 L631.0,33.7 L632.0,33.4 L633.0,33.2 L634.0,33.0 L635.0,32.7 L636.0,32.5 L637.0,32.3 L638.0,32.1 L639.0,31.9 L640.0,31.7 L641.0,31.5 L642.0,31.3 L643.0,31.1 L644.0,30.9 L645.0,30.7 L646.0,30.5 L647.0,30.3 L648.0,30.1 L649.0,29.9 L650.0,29.8 L651.0,29.6 L652.0,29.4 L653.0,29.2 L654.0,29.0 L655.0,28.9 L656.0,28.7 L657.0,28.5 L658.0,28.4 L659.0,28.2 L660.0,28.0 L661.0,27.8 L662.0,27.7" stroke="#62146e"/>
<path d="M56.0,243.4 L57.0,243.9 L58.0,244.3 L59.0,244.7 L60.0,244.9 L61.0,245.2 L62.0,245.3 L63.0,245.4 L64.0,245.3 L65.0,245.2 L66.0,244.9 L67.0,244.7 L68.0,244.4 L69.0,244.2 L70.0,244.1 L71.0,244.0 L72.0,243.9 L73.0,243.7 L74.0,243.5 L75.0,243.3 L76.0,243.1 L77.0,242.9 L78.0,242.6 L79.0,242.3 L80.0,241.8 L81.0,241.4 L82.0,240.9 L83.0,240.4 L84.0,239.9 L85.0,239.4 L86.0,238.9 L87.0,238.0 L88.0,236.9 L89.0,236.1 L90.0,235.3 L91.0,234.5 L92.0,233.7 L93.0,232.9 L94.0,232.1 L95.0,231.4 L96.0,230.7 L97.0,230.0 L98.0,229.2 L99.0,228.4 L100.0,227.7 L101.0,227.0 L102.0,226.3 L103.0,225.7 L104.0,225.1 L105.0,224.4 L106.0,223.7 L107.0,222.8 L108.0,221.7 L109.0,220.7 L110.0,219.6 L111.0,218.6 L112.0,217.5 L113.0,216.5 L114.0,215.2 L115.0,213.6 L116.0,212.0 L117.0,210.3 L118.0,208.6 L119.0,206.6 L120.0,204.6 L121.0,202.6 L122.0,200.5 L123.0,198.4 L124.0,196.3 L125.0,194.3 L126.0,192.3 L127.0,190.3 L128.0,188.4 L129.0,186.4 L130.0,184.4 L131.0,182.5 L132.0,180.4 L133.0,178.2 L134.0,175.9 L135.0,173.5 L136.0,171.2 L137.0,168.9 L138.0,166.6 L139.0,164.4 L140.0,162.1 L141.0,159.9 L142.0,157.7 L143.0,155.5 L144.0,153.4 L145.0,151.4 L146.0,149.4 L147.0,147.5 L148.0,145.4 L149.0,143.2 L150.0,141.0 L151.0,138.8 L152.0,136.8 L153.0,134.8 L154.0,132.9 L155.0,131.2 L156.0,129.8 L157.0,128.6 L158.0,127.6 L159.0,126.6 L160.0,125.9 L161.0,125.3 L162.0,124.8 L163.0,124.4 L164.0,124.1 L165.0,123.9 L166.0,123.7 L167.0,123.6 L168.0,123.7 L169.0,124.0 L170.0,124.3 L171.0,124.7 L172.0,125.1 L173.0,125.8 L174.0,126.7 L175.0,127.7 L176.0,128.7 L177.0,130.0 L178.0,131.4 L179.0,133.0 L180.0,134.6 L181.0,136.5 L182.0,138.7 L183.0,141.2 L184.0,144.3 L185.0,147.8 L186.0,151.3 L187.0,154.6 L188.0,157.9 L189.0,161.2 L190.0,164.6 L191.0,167.9 L192.0,171.3 L193.0,174.6 L194.0,178.0 L195.0,181.5 L196.0,185.0 L197.0,188.6 L198.0,192.2 L199.0,195.7 L200.0,199.2 L201.0,202.6 L202.0,206.1 L203.0,209.7 L204.0,213.6 L205.0,217.5 L206.0,220.1 L207.0,221.5 L208.0,222.3 L209.0,222.9 L210.0,223.6 L211.0,224.4 L212.0,225.1 L213.0,225.7 L214.0,226.1 L215.0,225.8 L216.0,224.7 L217.0,223.2 L218.0,221.6 L219.0,219.7 L220.0,217.9 L221.0,216.3 L222.0,214.8 L223.0,213.4 L224.0,212.2 L225.0,211.0 L226.0,209.7 L227.0,208.3 L228.0,206.7 L229.0,205.0 L230.0,203.4 L231.0,201.7 L232.0,200.2 L233.0,198.8 L234.0,197.5 L235.0,196.2 L236.0,195.0 L237.0,193.8 L238.0,192.8 L239.0,191.7 L240.0,190.5 L241.0,189.3 L242.0,187.8 L243.0,186.4 L244.0,185.0 L245.0,183.7 L246.0,182.5 L247.0,181.2 L248.0,179.8 L249.0,178.4 L250.0,177.0 L251.0,175.5 L252.0,174.1 L253.0,172.7 L254.0,171.3 L255.0,169.9 L256.0,168.6 L257.0,167.4 L258.0,166.3 L259.0,165.2 L260.0,163.8 L261.0,162.4 L262.0,160.8 L263.0,159.3 L264.0,157.7 L265.0,156.2 L266.0,154.7 L267.0,153.2 L268.0,151.8 L269.0,150.4 L270.0,149.0 L271.0,147.6 L272.0,146.1 L273.0,144.6 L274.0,143.2 L275.0,141.7 L276.0,140.3 L277.0,139.0 L278.0,137.6 L279.0,136.4 L280.0,135.1 L281.0,133.8 L282.0,132.6 L283.0,131.4 L284.0,130.3 L285.0,129.2 L286.0,128.2 L287.0,127.3 L288.0,126.6 L289.0,126.0 L290.0,125.6 L291.0,125.4 L292.0,125.4 L293.0,125.5 L294.0,125.5 L295.0,125.5 L296.0,125.5 L297.0,125.3 L298.0,125.0 L299.0,124.8 L300.0,124.7 L301.0,124.9 L302.0,125.3 L303.0,126.0 L304.0,126.9 L305.0,127.8 L306.0,128.7 L307.0,129.7 L308.0,130.7 L309.0,131.9 L310.0,133.1 L311.0,134.5 L312.0,135.9 L313.0,137.3 L314.0,138.8 L315.0,140.3 L316.0,141.7 L317.0,143.2 L318.0,144.7 L319.0,146.1 L320.0,147.6 L321.0,149.2 L322.0,150.8 L323.0,152.3 L324.0,153.9 L325.0,155.5 L326.0,157.1 L327.0,158.7 L328.0,160.3 L329.0,161.9 L330.0,163.5 L331.0,165.0 L332.0,166.6 L333.0,168.1 L334.0,169.6 L335.0,171.1 L336.0,172.6 L337.0,174.0 L338.0,175.4 L339.0,176.7 L340.0,178.0 L341.0,179.3 L342.0,180.6 L343.0,181.8 L344.0,182.9 L345.0,184.0 L346.0,185.1 L347.0,186.1 L348.0,187.1 L349.0,188.0 L350.0,188.9 L351.0,189.7 L352.0,190.5 L353.0,191.2 L354.0,191.9 L355.0,192.6 L356.0,193.2 L357.0,193.7 L358.0,194.2 L359.0,194.7 L360.0,195.1 L361.0,195.5 L362.0,195.9 L363.0,196.2 L364.0,196.5 L365.0,196.8 L366.0,197.0 L367.0,197.2 L368.0,197.4 L369.0,197.6 L370.0,197.7 L371.0,197.8 L372.0,197.9 L373.0,198.0 L374.0,198.0 L375.0,198.0 L376.0,198.1 L377.0,198.1 L378.0,198.0 L379.0,198.0 L380.0,198.0 L381.0,197.9 L382.0,197.9 L383.0,197.8 L384.0,197.8 L385.0,197.7 L386.0,197.6 L387.0,197.5 L388.0,197.4 L389.0,197.3 L390.0,197.2 L391.0,197.1 L392.0,197.0 L393.0,196.8 L394.0,196.7 L395.0,196.5 L396.0,196.4 L397.0,196.2 L398.0,196.1 L399.0,195.9 L400.0,195.7 L401.0,195.5 L402.0,195.3 L403.0,195.1 L404.0,194.9 L405.0,194.7 L406.0,194.5 L407.0,194.2 L408.0,194.0 L409.0,193.7 L410.0,193.5 L411.0,193.2 L412.0,192.9 L413.0,192.6 L414.0,192.3 L415.0,192.0 L416.0,191.7 L417.0,191.3 L418.0,191.0 L419.0,190.6 L420.0,190.3 L421.0,189.9 L422.0,189.5 L423.0,189.1 L424.0,188.7 L425.0,188.2 L426.0,187.8 L427.0,187.3 L428.0,186.8 L429.0,186.3 L430.0,185.8 L431.0,185.3 L432.0,184.7 L433.0,184.2 L434.0,183.6 L435.0,183.0 L436.0,182.4 L437.0,181.7 L438.0,181.1 L439.0,180.4 L440.0,179.7 L441.0,178.9 L442.0,178.2 L443.0,177.4 L444.0,176.6 L445.0,175.7 L446.0,174.9 L447.0,174.0 L448.0,173.1 L449.0,172.1 L450.0,171.2 L451.0,170.2 L452.0,169.2 L453.0,168.2 L454.0,167.2 L455.0,166.1 L456.0,165.0 L457.0,164.0 L458.0,162.9 L459.0,161.8 L460.0,160.6 L461.0,159.5 L462.0,158.4 L463.0,157.2 L464.0,156.1 L465.0,154.9 L466.0,153.7 L467.0,152.5 L468.0,151.3 L469.0,150.1 L470.0,148.9 L471.0,147.7 L472.0,146.4 L473.0,145.2 L474.0,143.9 L475.0,142.7 L476.0,141.4 L477.0,140.2 L478.0,138.9 L479.0,137.6 L480.0,136.4 L481.0,135.1 L482.0,133.8 L483.0,132.6 L484.0,131.3 L485.0,130.1 L486.0,128.8 L487.0,127.5 L488.0,126.3 L489.0,125.0 L490.0,123.7 L491.0,122.5 L492.0,121.2 L493.0,119.9 L494.0,118.7 L495.0,117.4 L496.0,116.1 L497.0,114.9 L498.0,113.6 L499.0,112.4 L500.0,111.1 L501.0,109.9 L502.0,108.6 L503.0,107.4 L504.0,106.2 L505.0,104.9 L506.0,103.7 L507.0,102.5 L508.0,101.3 L509.0,100.1 L510.0,98.9 L511.0,97.7 L512.0,96.5 L513.0,95.3 L514.0,94.2 L515.0,93.0 L516.0,91.9 L517.0,90.7 L518.0,89.6 L519.0,88.5 L520.0,87.4 L521.0,86.3 L522.0,85.3 L523.0,84.3 L524.0,83.2 L525.0,82.3 L526.0,81.3 L527.0,80.4 L528.0,79.4 L529.0,78.5 L530.0,77.7 L531.0,76.8 L532.0,76.0 L533.0,75.1 L534.0,74.3 L535.0,73.5 L536.0,72.8 L537.0,72.0 L538.0,71.2 L539.0,70.5 L540.0,69.8 L541.0,69.0 L542.0,68.3 L543.0,67.6 L544.0,66.9 L545.0,66.2 L546.0,65.5 L547.0,64.8 L548.0,64.2 L549.0,63.5 L550.0,62.8 L551.0,62.2 L552.0,61.5 L553.0,60.9 L554.0,60.2 L555.0,59.6 L556.0,59.0 L557.0,58.4 L558.0,57.8 L559.0,57.2 L560.0,56.6 L561.0,56.0 L562.0,55.4 L563.0,54.8 L564.0,54.2 L565.0,53.7 L566.0,53.1 L567.0,52.6 L568.0,52.0 L569.0,51.5 L570.0,51.0 L571.0,50.4 L572.0,49.9 L573.0,49.4 L574.0,48.9 L575.0,48.4 L576.0,47.9 L577.0,47.4 L578.0,46.9 L579.0,46.5 L580.0,46.0 L581.0,45.5 L582.0,45.1 L583.0,44.6 L584.0,44.2 L585.0,43.7 L586.0,43.3 L587.0,42.8 L588.0,42.4 L589.0,42.0 L590.0,41.6 L591.0,41.2 L592.0,40.8 L593.0,40.4 L594.0,40.0 L595.0,39.6 L596.0,39.2 L597.0,38.8 L598.0,38.4 L599.0,38.1 L600.0,37.7 L601.0,37.4 L602.0,37.0 L603.0,36.7 L604.0,36.3 L605.0,36.0 L606.0,35.7 L607.0,35.4 L608.0,35.0 L609.0,34.7 L610.0,34.4 L611.0,34.1 L612.0,33.9 L613.0,33.6 L614.0,33.3 L615.0,33.0 L616.0,32.7 L617.0,32.5 L618.0,32.2 L619.0,32.0 L620.0,31.7 L621.0,31.5 L622.0,31.3 L623.0,31.0 L624.0,30.8 L625.0,30.6 L626.0,30.4 L627.0,30.2 L628.0,29.9 L629.0,29.7 L630.0,29.5 L631.0,29.3 L632.0,29.1 L633.0,29.0 L634.0,28.8 L635.0,28.6 L636.0,28.4 L637.0,28.2 L638.0,28.1 L639.0,27.9 L640.0,27.7 L641.0,27.6 L642.0,27.4 L643.0,27.2 L644.0,27.1 L645.0,26.9 L646.0,26.8 L647.0,26.6 L648.0,26.5 L649.0,26.3 L650.0,26.2 L651.0,26.0 L652.0,25.9 L653.0,25.7 L654.0,25.6 L655.0,25.5 L656.0,25.3 L657.0,25.2 L658.0,25.1 L659.0,24.9 L660.0,24.8 L661.0,24.6 L662.0,24.5" stroke="#68a22c"/>
<path d="M56.0,222.0 L57.0,222.5 L58.0,222.9 L59.0,223.2 L60.0,223.5 L61.0,223.7 L62.0,223.8 L63.0,223.8 L64.0,223.8 L65.0,223.5 L66.0,223.2 L67.0,222.8 L68.0,222.4 L69.0,222.1 L70.0,221.9 L71.0,221.8 L72.0,221.7 L73.0,221.6 L74.0,221.4 L75.0,221.2 L76.0,221.0 L77.0,220.8 L78.0,220.6 L79.0,220.3 L80.0,219.8 L81.0,219.4 L82.0,218.9 L83.0,218.3 L84.0,217.8 L85.0,217.1 L86.0,216.3 L87.0,214.8 L88.0,212.8 L89.0,211.2 L90.0,209.5 L91.0,207.8 L92.0,206.2 L93.0,204.7 L94.0,203.2 L95.0,201.8 L96.0,200.4 L97.0,198.9 L98.0,197.4 L99.0,195.9 L100.0,194.4 L101.0,193.1 L102.0,191.8 L103.0,190.5 L104.0,189.3 L105.0,188.2 L106.0,187.0 L107.0,185.7 L108.0,184.4 L109.0,183.0 L110.0,181.7 L111.0,180.6 L112.0,179.4 L113.0,178.3 L114.0,177.0 L115.0,175.6 L116.0,174.2 L117.0,172.8 L118.0,171.3 L119.0,169.7 L120.0,168.1 L121.0,166.6 L122.0,165.0 L123.0,163.4 L124.0,161.9 L125.0,160.4 L126.0,158.9 L127.0,157.4 L128.0,156.0 L129.0,154.6 L130.0,153.2 L131.0,151.8 L132.0,150.4 L133.0,148.8 L134.0,147.1 L135.0,145.5 L136.0,143.8 L137.0,142.2 L138.0,140.6 L139.0,139.0 L140.0,137.4 L141.0,135.8 L142.0,134.3 L143.0,132.8 L144.0,131.3 L145.0,129.9 L146.0,128.5 L147.0,127.2 L148.0,125.7 L149.0,124.3 L150.0,122.8 L151.0,121.4 L152.0,120.2 L153.0,118.9 L154.0,117.8 L155.0,116.8 L156.0,116.0 L157.0,115.4 L158.0,114.8 L159.0,114.4 L160.0,114.1 L161.0,113.9 L162.0,113.7 L163.0,113.7 L164.0,113.7 L165.0,113.7 L166.0,113.8 L167.0,114.0 L168.0,114.4 L169.0,114.8 L170.0,115.3 L171.0,115.9 L172.0,116.5 L173.0,117.2 L174.0,118.2 L175.0,119.3 L176.0,120.3 L177.0,121.6 L178.0,123.0 L179.0,124.5 L180.0,126.2 L181.0,128.1 L182.0,130.4 L183.0,133.0 L184.0,136.1 L185.0,139.4 L186.0,142.7 L187.0,145.9 L188.0,149.1 L189.0,152.2 L190.0,155.4 L191.0,158.6 L192.0,161.7 L193.0,164.8 L194.0,168.0 L195.0,171.3 L196.0,174.7 L197.0,178.2 L198.0,181.8 L199.0,185.3 L200.0,188.7 L201.0,192.2 L202.0,195.9 L203.0,200.0 L204.0,204.3 L205.0,208.6 L206.0,211.9 L207.0,214.3 L208.0,216.3 L209.0,218.2 L210.0,220.1 L211.0,221.9 L212.0,223.8 L213.0,225.7 L214.0,227.1 L215.0,228.0 L216.0,228.3 L217.0,228.6 L218.0,228.7 L219.0,228.6 L220.0,228.6 L221.0,228.9 L222.0,229.3 L223.0,229.6 L224.0,229.9 L225.0,230.3 L226.0,230.6 L227.0,230.6 L228.0,230.2 L229.0,229.9 L230.0,229.7 L231.0,229.4 L232.0,229.1 L233.0,228.8 L234.0,228.4 L235.0,227.7 L236.0,227.0 L237.0,226.4 L238.0,225.7 L239.0,225.0 L240.0,224.2 L241.0,223.2 L242.0,221.9 L243.0,220.6 L244.0,219.2 L245.0,217.9 L246.0,216.5 L247.0,215.0 L248.0,213.3 L249.0,211.7 L250.0,210.0 L251.0,208.1 L252.0,206.3 L253.0,204.5 L254.0,202.8 L255.0,201.0 L256.0,199.3 L257.0,197.7 L258.0,196.2 L259.0,194.6 L260.0,192.7 L261.0,190.6 L262.0,188.3 L263.0,186.1 L264.0,183.9 L265.0,181.6 L266.0,179.4 L267.0,177.2 L268.0,175.1 L269.0,172.9 L270.0,170.7 L271.0,168.5 L272.0,166.3 L273.0,164.1 L274.0,161.9 L275.0,159.7 L276.0,157.5 L277.0,155.3 L278.0,153.3 L279.0,151.2 L280.0,149.1 L281.0,147.0 L282.0,144.9 L283.0,142.8 L284.0,140.9 L285.0,138.9 L286.0,137.1 L287.0,135.4 L288.0,133.9 L289.0,132.6 L290.0,131.4 L291.0,130.5 L292.0,129.7 L293.0,128.8 L294.0,128.0 L295.0,127.1 L296.0,126.2 L297.0,125.2 L298.0,124.2 L299.0,123.3 L300.0,122.4 L301.0,121.9 L302.0,121.5 L303.0,121.3 L304.0,121.2 L305.0,121.2 L306.0,121.3 L307.0,121.3 L308.0,121.4 L309.0,121.7 L310.0,122.1 L311.0,122.6 L312.0,123.1 L313.0,123.7 L314.0,124.3 L315.0,125.0 L316.0,125.6 L317.0,126.2 L318.0,126.9 L319.0,127.6 L320.0,128.2 L321.0,129.0 L322.0,129.7 L323.0,130.5 L324.0,131.2 L325.0,132.0 L326.0,132.8 L327.0,133.6 L328.0,134.4 L329.0,135.2 L330.0,136.0 L331.0,136.8 L332.0,137.6 L333.0,138.4 L334.0,139.2 L335.0,139.9 L336.0,140.7 L337.0,141.4 L338.0,142.1 L339.0,142.8 L340.0,143.4 L341.0,144.1 L342.0,144.7 L343.0,145.3 L344.0,145.8 L345.0,146.4 L346.0,146.9 L347.0,147.4 L348.0,147.8 L349.0,148.3 L350.0,148.7 L351.0,149.1 L352.0,149.4 L353.0,149.7 L354.0,150.0 L355.0,150.3 L356.0,150.5 L357.0,150.7 L358.0,150.9 L359.0,151.1 L360.0,151.2 L361.0,151.4 L362.0,151.5 L363.0,151.5 L364.0,151.6 L365.0,151.7 L366.0,151.7 L367.0,151.7 L368.0,151.7 L369.0,151.7 L370.0,151.6 L371.0,151.6 L372.0,151.5 L373.0,151.5 L374.0,151.4 L375.0,151.3 L376.0,151.2 L377.0,151.1 L378.0,151.0 L379.0,150.9 L380.0,150.8 L381.0,150.6 L382.0,150.5 L383.0,150.4 L384.0,150.2 L385.0,150.1 L386.0,149.9 L387.0,149.8 L388.0,149.7 L389.0,149.5 L390.0,149.3 L391.0,149.2 L392.0,149.0 L393.0,148.9 L394.0,148.7 L395.0,148.5 L396.0,148.3 L397.0,148.2 L398.0,148.0 L399.0,147.8 L400.0,147.6 L401.0,147.4 L402.0,147.2 L403.0,147.0 L404.0,146.8 L405.0,146.5 L406.0,146.3 L407.0,146.1 L408.0,145.8 L409.0,145.6 L410.0,145.3 L411.0,145.1 L412.0,144.8 L413.0,144.5 L414.0,144.3 L415.0,144.0 L416.0,143.7 L417.0,143.4 L418.0,143.1 L419.0,142.8 L420.0,142.5 L421.0,142.2 L422.0,141.8 L423.0,141.5 L424.0,141.1 L425.0,140.8 L426.0,140.4 L427.0,140.0 L428.0,139.6 L429.0,139.2 L430.0,138.8 L431.0,138.4 L432.0,138.0 L433.0,137.5 L434.0,137.1 L435.0,136.6 L436.0,136.1 L437.0,135.6 L438.0,135.1 L439.0,134.6 L440.0,134.0 L441.0,133.5 L442.0,132.9 L443.0,132.3 L444.0,131.7 L445.0,131.1 L446.0,130.4 L447.0,129.8 L448.0,129.1 L449.0,128.4 L450.0,127.7 L451.0,127.0 L452.0,126.2 L453.0,125.5 L454.0,124.7 L455.0,123.9 L456.0,123.2 L457.0,122.4 L458.0,121.5 L459.0,120.7 L460.0,119.9 L461.0,119.1 L462.0,118.2 L463.0,117.4 L464.0,116.5 L465.0,115.7 L466.0,114.8 L467.0,113.9 L468.0,113.1 L469.0,112.2 L470.0,111.3 L471.0,110.4 L472.0,109.5 L473.0,108.6 L474.0,107.6 L475.0,106.7 L476.0,105.8 L477.0,104.9 L478.0,104.0 L479.0,103.0 L480.0,102.1 L481.0,101.2 L482.0,100.3 L483.0,99.4 L484.0,98.5 L485.0,97.5 L486.0,96.6 L487.0,95.7 L488.0,94.8 L489.0,93.9 L490.0,93.0 L491.0,92.1 L492.0,91.1 L493.0,90.2 L494.0,89.3 L495.0,88.4 L496.0,87.5 L497.0,86.6 L498.0,85.7 L499.0,84.8 L500.0,83.9 L501.0,83.0 L502.0,82.1 L503.0,81.2 L504.0,80.3 L505.0,79.4 L506.0,78.6 L507.0,77.7 L508.0,76.8 L509.0,75.9 L510.0,75.1 L511.0,74.2 L512.0,73.4 L513.0,72.5 L514.0,71.7 L515.0,70.9 L516.0,70.0 L517.0,69.2 L518.0,68.4 L519.0,67.6 L520.0,66.8 L521.0,66.1 L522.0,65.3 L523.0,64.6 L524.0,63.9 L525.0,63.1 L526.0,62.5 L527.0,61.8 L528.0,61.1 L529.0,60.5 L530.0,59.8 L531.0,59.2 L532.0,58.6 L533.0,58.0 L534.0,57.4 L535.0,56.9 L536.0,56.3 L537.0,55.8 L538.0,55.2 L539.0,54.7 L540.0,54.1 L541.0,53.6 L542.0,53.1 L543.0,52.6 L544.0,52.1 L545.0,51.6 L546.0,51.1 L547.0,50.6 L548.0,50.1 L549.0,49.6 L550.0,49.1 L551.0,48.6 L552.0,48.2 L553.0,47.7 L554.0,47.2 L555.0,46.8 L556.0,46.3 L557.0,45.9 L558.0,45.4 L559.0,45.0 L560.0,44.6 L561.0,44.2 L562.0,43.7 L563.0,43.3 L564.0,42.9 L565.0,42.5 L566.0,42.1 L567.0,41.7 L568.0,41.3 L569.0,40.9 L570.0,40.5 L571.0,40.2 L572.0,39.8 L573.0,39.4 L574.0,39.1 L575.0,38.7 L576.0,38.3 L577.0,38.0 L578.0,37.6 L579.0,37.3 L580.0,36.9 L581.0,36.6 L582.0,36.3 L583.0,35.9 L584.0,35.6 L585.0,35.3 L586.0,35.0 L587.0,34.7 L588.0,34.4 L589.0,34.0 L590.0,33.7 L591.0,33.4 L592.0,33.1 L593.0,32.9 L594.0,32.6 L595.0,32.3 L596.0,32.0 L597.0,31.7 L598.0,31.5 L599.0,31.2 L600.0,30.9 L601.0,30.7 L602.0,30.4 L603.0,30.2 L604.0,29.9 L605.0,29.7 L606.0,29.4 L607.0,29.2 L608.0,29.0 L609.0,28.7 L610.0,28.5 L611.0,28.3 L612.0,28.1 L613.0,27.9 L614.0,27.7 L615.0,27.5 L616.0,27.3 L617.0,27.1 L618.0,26.9 L619.0,26.7 L620.0,26.5 L621.0,26.3 L622.0,26.2 L623.0,26.0 L624.0,25.8 L625.0,25.7 L626.0,25.5 L627.0,25.3 L628.0,25.2 L629.0,25.0 L630.0,24.9 L631.0,24.7 L632.0,24.6 L633.0,24.4 L634.0,24.3 L635.0,24.2 L636.0,24.0 L637.0,23.9 L638.0,23.8 L639.0,23.7 L640.0,23.5 L641.0,23.4 L642.0,23.3 L643.0,23.2 L644.0,23.1 L645.0,22.9 L646.0,22.8 L647.0,22.7 L648.0,22.6 L649.0,22.5 L650.0,22.4 L651.0,22.3 L652.0,22.2 L653.0,22.1 L654.0,22.0 L655.0,21.8 L656.0,21.7 L657.0,21.6 L658.0,21.5 L659.0,21.4 L660.0,21.3 L661.0,21.2 L662.0,21.1" stroke="#3ea8de"/>
<path d="M56.0,201.8 L57.0,202.3 L58.0,202.7 L59.0,203.1 L60.0,203.3 L61.0,203.5 L62.0,203.6 L63.0,203.6 L64.0,203.5 L65.0,203.2 L66.0,202.7 L67.0,202.2 L68.0,201.7 L69.0,201.3 L70.0,201.1 L71.0,201.0 L72.0,200.9 L73.0,200.7 L74.0,200.6 L75.0,200.5 L76.0,200.3 L77.0,200.1 L78.0,199.9 L79.0,199.6 L80.0,199.2 L81.0,198.7 L82.0,198.2 L83.0,197.6 L84.0,197.0 L85.0,196.1 L86.0,195.0 L87.0,192.9 L88.0,190.2 L89.0,187.7 L90.0,185.3 L91.0,182.8 L92.0,180.5 L93.0,178.2 L94.0,176.1 L95.0,174.0 L96.0,171.9 L97.0,169.7 L98.0,167.5 L99.0,165.3 L100.0,163.2 L101.0,161.2 L102.0,159.3 L103.0,157.4 L104.0,155.7 L105.0,154.1 L106.0,152.5 L107.0,150.9 L108.0,149.3 L109.0,147.7 L110.0,146.2 L111.0,144.8 L112.0,143.6 L113.0,142.4 L114.0,141.1 L115.0,139.8 L116.0,138.6 L117.0,137.5 L118.0,136.3 L119.0,135.1 L120.0,133.9 L121.0,132.7 L122.0,131.7 L123.0,130.6 L124.0,129.5 L125.0,128.5 L126.0,127.5 L127.0,126.6 L128.0,125.7 L129.0,124.8 L130.0,123.9 L131.0,123.0 L132.0,122.1 L133.0,121.1 L134.0,120.1 L135.0,119.1 L136.0,118.1 L137.0,117.1 L138.0,116.1 L139.0,115.1 L140.0,114.2 L141.0,113.2 L142.0,112.3 L143.0,111.4 L144.0,110.5 L145.0,109.7 L146.0,108.9 L147.0,108.1 L148.0,107.3 L149.0,106.5 L150.0,105.8 L151.0,105.1 L152.0,104.5 L153.0,104.0 L154.0,103.5 L155.0,103.2 L156.0,103.0 L157.0,102.9 L158.0,102.9 L159.0,102.9 L160.0,103.0 L161.0,103.1 L162.0,103.3 L163.0,103.6 L164.0,103.9 L165.0,104.2 L166.0,104.6 L167.0,105.0 L168.0,105.6 L169.0,106.2 L170.0,106.9 L171.0,107.6 L172.0,108.3 L173.0,109.2 L174.0,110.2 L175.0,111.3 L176.0,112.5 L177.0,113.7 L178.0,115.0 L179.0,116.5 L180.0,118.2 L181.0,120.2 L182.0,122.7 L183.0,125.3 L184.0,128.3 L185.0,131.6 L186.0,134.8 L187.0,137.8 L188.0,140.8 L189.0,143.8 L190.0,146.8 L191.0,149.8 L192.0,152.7 L193.0,155.6 L194.0,158.6 L195.0,161.7 L196.0,165.0 L197.0,168.5 L198.0,172.0 L199.0,175.4 L200.0,178.9 L201.0,182.5 L202.0,186.4 L203.0,190.8 L204.0,195.5 L205.0,200.2 L206.0,204.2 L207.0,207.6 L208.0,210.8 L209.0,213.8 L210.0,216.7 L211.0,219.6 L212.0,222.6 L213.0,225.6 L214.0,228.9 L215.0,232.0 L216.0,234.6 L217.0,236.7 L218.0,238.3 L219.0,239.9 L220.0,241.6 L221.0,243.7 L222.0,245.8 L223.0,247.8 L224.0,249.9 L225.0,252.0 L226.0,253.8 L227.0,255.3 L228.0,256.1 L229.0,256.6 L230.0,257.0 L231.0,257.3 L232.0,257.5 L233.0,257.6 L234.0,257.5 L235.0,257.3 L236.0,257.1 L237.0,256.9 L238.0,256.7 L239.0,256.3 L240.0,255.9 L241.0,255.1 L242.0,254.0 L243.0,252.7 L244.0,251.3 L245.0,249.9 L246.0,248.4 L247.0,246.7 L248.0,244.9 L249.0,243.0 L250.0,241.0 L251.0,238.8 L252.0,236.6 L253.0,234.5 L254.0,232.4 L255.0,230.2 L256.0,228.2 L257.0,226.1 L258.0,224.2 L259.0,222.2 L260.0,219.7 L261.0,217.0 L262.0,214.2 L263.0,211.3 L264.0,208.4 L265.0,205.6 L266.0,202.7 L267.0,199.8 L268.0,196.9 L269.0,194.1 L270.0,191.2 L271.0,188.2 L272.0,185.3 L273.0,182.4 L274.0,179.4 L275.0,176.5 L276.0,173.6 L277.0,170.8 L278.0,167.9 L279.0,165.1 L280.0,162.2 L281.0,159.3 L282.0,156.5 L283.0,153.6 L284.0,150.8 L285.0,148.1 L286.0,145.5 L287.0,143.1 L288.0,140.8 L289.0,138.7 L290.0,136.9 L291.0,135.2 L292.0,133.6 L293.0,132.0 L294.0,130.3 L295.0,128.5 L296.0,126.8 L297.0,125.1 L298.0,123.5 L299.0,121.8 L300.0,120.2 L301.0,118.8 L302.0,117.5 L303.0,116.4 L304.0,115.4 L305.0,114.4 L306.0,113.4 L307.0,112.5 L308.0,111.7 L309.0,111.1 L310.0,110.6 L311.0,110.2 L312.0,109.9 L313.0,109.7 L314.0,109.4 L315.0,109.3 L316.0,109.1 L317.0,108.9 L318.0,108.7 L319.0,108.7 L320.0,108.6 L321.0,108.6 L322.0,108.7 L323.0,108.7 L324.0,108.8 L325.0,108.9 L326.0,109.0 L327.0,109.1 L328.0,109.3 L329.0,109.4 L330.0,109.5 L331.0,109.7 L332.0,109.8 L333.0,110.0 L334.0,110.1 L335.0,110.3 L336.0,110.4 L337.0,110.5 L338.0,110.7 L339.0,110.8 L340.0,110.9 L341.0,110.9 L342.0,111.0 L343.0,111.0 L344.0,111.0 L345.0,111.0 L346.0,111.0 L347.0,111.0 L348.0,111.0 L349.0,110.9 L350.0,110.9 L351.0,110.9 L352.0,110.8 L353.0,110.7 L354.0,110.6 L355.0,110.5 L356.0,110.5 L357.0,110.3 L358.0,110.2 L359.0,110.1 L360.0,110.0 L361.0,109.8 L362.0,109.7 L363.0,109.5 L364.0,109.4 L365.0,109.2 L366.0,109.1 L367.0,108.9 L368.0,108.7 L369.0,108.5 L370.0,108.3 L371.0,108.2 L372.0,108.0 L373.0,107.8 L374.0,107.6 L375.0,107.4 L376.0,107.2 L377.0,107.0 L378.0,106.8 L379.0,106.6 L380.0,106.4 L381.0,106.2 L382.0,106.0 L383.0,105.8 L384.0,105.6 L385.0,105.4 L386.0,105.2 L387.0,105.0 L388.0,104.8 L389.0,104.6 L390.0,104.4 L391.0,104.2 L392.0,104.0 L393.0,103.8 L394.0,103.6 L395.0,103.4 L396.0,103.2 L397.0,103.0 L398.0,102.8 L399.0,102.6 L400.0,102.4 L401.0,102.1 L402.0,101.9 L403.0,101.7 L404.0,101.5 L405.0,101.3 L406.0,101.0 L407.0,100.8 L408.0,100.6 L409.0,100.3 L410.0,100.1 L411.0,99.9 L412.0,99.6 L413.0,99.4 L414.0,99.1 L415.0,98.9 L416.0,98.6 L417.0,98.4 L418.0,98.1 L419.0,97.9 L420.0,97.6 L421.0,97.3 L422.0,97.0 L423.0,96.8 L424.0,96.5 L425.0,96.2 L426.0,95.9 L427.0,95.6 L428.0,95.3 L429.0,95.0 L430.0,94.7 L431.0,94.3 L432.0,94.0 L433.0,93.7 L434.0,93.3 L435.0,93.0 L436.0,92.6 L437.0,92.3 L438.0,91.9 L439.0,91.5 L440.0,91.2 L441.0,90.8 L442.0,90.4 L443.0,90.0 L444.0,89.5 L445.0,89.1 L446.0,88.7 L447.0,88.2 L448.0,87.8 L449.0,87.3 L450.0,86.8 L451.0,86.3 L452.0,85.8 L453.0,85.3 L454.0,84.8 L455.0,84.3 L456.0,83.8 L457.0,83.3 L458.0,82.7 L459.0,82.2 L460.0,81.6 L461.0,81.1 L462.0,80.5 L463.0,79.9 L464.0,79.4 L465.0,78.8 L466.0,78.2 L467.0,77.7 L468.0,77.1 L469.0,76.5 L470.0,75.9 L471.0,75.3 L472.0,74.7 L473.0,74.1 L474.0,73.5 L475.0,72.9 L476.0,72.3 L477.0,71.7 L478.0,71.1 L479.0,70.5 L480.0,69.9 L481.0,69.3 L482.0,68.8 L483.0,68.2 L484.0,67.6 L485.0,67.0 L486.0,66.4 L487.0,65.8 L488.0,65.2 L489.0,64.7 L490.0,64.1 L491.0,63.5 L492.0,62.9 L493.0,62.3 L494.0,61.7 L495.0,61.2 L496.0,60.6 L497.0,60.0 L498.0,59.4 L499.0,58.8 L500.0,58.3 L501.0,57.7 L502.0,57.1 L503.0,56.6 L504.0,56.0 L505.0,55.5 L506.0,54.9 L507.0,54.4 L508.0,53.8 L509.0,53.3 L510.0,52.7 L511.0,52.2 L512.0,51.6 L513.0,51.1 L514.0,50.6 L515.0,50.0 L516.0,49.5 L517.0,49.0 L518.0,48.5 L519.0,48.0 L520.0,47.5 L521.0,47.0 L522.0,46.5 L523.0,46.1 L524.0,45.6 L525.0,45.2 L526.0,44.7 L527.0,44.3 L528.0,43.9 L529.0,43.5 L530.0,43.1 L531.0,42.7 L532.0,42.3 L533.0,41.9 L534.0,41.6 L535.0,41.2 L536.0,40.9 L537.0,40.5 L538.0,40.2 L539.0,39.8 L540.0,39.5 L541.0,39.1 L542.0,38.8 L543.0,38.5 L544.0,38.2 L545.0,37.8 L546.0,37.5 L547.0,37.2 L548.0,36.9 L549.0,36.6 L550.0,36.3 L551.0,35.9 L552.0,35.6 L553.0,35.3 L554.0,35.0 L555.0,34.7 L556.0,34.5 L557.0,34.2 L558.0,33.9 L559.0,33.6 L560.0,33.3 L561.0,33.1 L562.0,32.8 L563.0,32.5 L564.0,32.3 L565.0,32.0 L566.0,31.7 L567.0,31.5 L568.0,31.2 L569.0,31.0 L570.0,30.7 L571.0,30.5 L572.0,30.3 L573.0,30.0 L574.0,29.8 L575.0,29.6 L576.0,29.3 L577.0,29.1 L578.0,28.9 L579.0,28.7 L580.0,28.4 L581.0,28.2 L582.0,28.0 L583.0,27.8 L584.0,27.6 L585.0,27.4 L586.0,27.2 L587.0,27.0 L588.0,26.8 L589.0,26.6 L590.0,26.4 L591.0,26.2 L592.0,26.0 L593.0,25.8 L594.0,25.6 L595.0,25.4 L596.0,25.3 L597.0,25.1 L598.0,24.9 L599.0,24.7 L600.0,24.5 L601.0,24.4 L602.0,24.2 L603.0,24.0 L604.0,23.9 L605.0,23.7 L606.0,23.6 L607.0,23.4 L608.0,23.2 L609.0,23.1 L610.0,22.9 L611.0,22.8 L612.0,22.7 L613.0,22.5 L614.0,22.4 L615.0,22.2 L616.0,22.1 L617.0,22.0 L618.0,21.9 L619.0,21.7 L620.0,21.6 L621.0,21.5 L622.0,21.4 L623.0,21.2 L624.0,21.1 L625.0,21.0 L626.0,20.9 L627.0,20.8 L628.0,20.7 L629.0,20.6 L630.0,20.5 L631.0,20.4 L632.0,20.3 L633.0,20.2 L634.0,20.1 L635.0,20.0 L636.0,19.9 L637.0,19.8 L638.0,19.8 L639.0,19.7 L640.0,19.6 L641.0,19.5 L642.0,19.4 L643.0,19.3 L644.0,19.3 L645.0,19.2 L646.0,19.1 L647.0,19.0 L648.0,19.0 L649.0,18.9 L650.0,18.8 L651.0,18.7 L652.0,18.7 L653.0,18.6 L654.0,18.5 L655.0,18.4 L656.0,18.4 L657.0,18.3 L658.0,18.2 L659.0,18.2 L660.0,18.1 L661.0,18.0 L662.0,18.0" stroke="#940c26"/>
<path d="M56.0,185.4 L57.0,185.9 L58.0,186.3 L59.0,186.6 L60.0,186.8 L61.0,187.0 L62.0,187.1 L63.0,187.1 L64.0,187.0 L65.0,186.6 L66.0,186.1 L67.0,185.5 L68.0,184.9 L69.0,184.4 L70.0,184.1 L71.0,184.0 L72.0,183.9 L73.0,183.8 L74.0,183.7 L75.0,183.6 L76.0,183.4 L77.0,183.2 L78.0,183.0 L79.0,182.7 L80.0,182.3 L81.0,181.9 L82.0,181.3 L83.0,180.7 L84.0,180.0 L85.0,179.0 L86.0,177.7 L87.0,175.1 L88.0,171.7 L89.0,168.6 L90.0,165.5 L91.0,162.4 L92.0,159.5 L93.0,156.7 L94.0,154.0 L95.0,151.3 L96.0,148.6 L97.0,145.9 L98.0,143.1 L99.0,140.4 L100.0,137.8 L101.0,135.3 L102.0,132.8 L103.0,130.4 L104.0,128.2 L105.0,126.3 L106.0,124.4 L107.0,122.6 L108.0,120.7 L109.0,118.8 L110.0,117.2 L111.0,115.7 L112.0,114.4 L113.0,113.1 L114.0,111.9 L115.0,110.7 L116.0,109.6 L117.0,108.7 L118.0,107.7 L119.0,106.8 L120.0,106.0 L121.0,105.2 L122.0,104.4 L123.0,103.8 L124.0,103.1 L125.0,102.5 L126.0,101.9 L127.0,101.4 L128.0,100.9 L129.0,100.4 L130.0,100.0 L131.0,99.5 L132.0,99.1 L133.0,98.6 L134.0,98.1 L135.0,97.6 L136.0,97.1 L137.0,96.6 L138.0,96.2 L139.0,95.7 L140.0,95.2 L141.0,94.8 L142.0,94.4 L143.0,94.0 L144.0,93.6 L145.0,93.2 L146.0,92.9 L147.0,92.5 L148.0,92.2 L149.0,92.0 L150.0,91.9 L151.0,91.8 L152.0,91.8 L153.0,91.8 L154.0,91.9 L155.0,92.1 L156.0,92.4 L157.0,92.7 L158.0,93.1 L159.0,93.5 L160.0,94.0 L161.0,94.4 L162.0,94.9 L163.0,95.3 L164.0,95.9 L165.0,96.4 L166.0,97.0 L167.0,97.7 L168.0,98.4 L169.0,99.2 L170.0,100.0 L171.0,100.8 L172.0,101.7 L173.0,102.7 L174.0,103.7 L175.0,104.9 L176.0,106.0 L177.0,107.2 L178.0,108.6 L179.0,110.0 L180.0,111.7 L181.0,113.8 L182.0,116.3 L183.0,119.0 L184.0,122.0 L185.0,125.1 L186.0,128.2 L187.0,131.2 L188.0,134.1 L189.0,137.0 L190.0,139.8 L191.0,142.7 L192.0,145.4 L193.0,148.1 L194.0,150.9 L195.0,154.0 L196.0,157.2 L197.0,160.5 L198.0,164.0 L199.0,167.4 L200.0,170.9 L201.0,174.5 L202.0,178.6 L203.0,183.3 L204.0,188.4 L205.0,193.4 L206.0,198.0 L207.0,202.2 L208.0,206.2 L209.0,210.2 L210.0,214.0 L211.0,217.7 L212.0,221.6 L213.0,225.6 L214.0,230.0 L215.0,234.5 L216.0,238.6 L217.0,242.0 L218.0,245.0 L219.0,247.8 L220.0,251.0 L221.0,254.5 L222.0,258.0 L223.0,261.3 L224.0,264.7 L225.0,268.1 L226.0,271.3 L227.0,273.8 L228.0,275.6 L229.0,277.0 L230.0,278.2 L231.0,279.3 L232.0,280.1 L233.0,280.8 L234.0,281.2 L235.0,281.4 L236.0,281.6 L237.0,281.8 L238.0,281.9 L239.0,281.9 L240.0,281.7 L241.0,281.1 L242.0,280.1 L243.0,278.8 L244.0,277.4 L245.0,276.0 L246.0,274.5 L247.0,272.6 L248.0,270.6 L249.0,268.5 L250.0,266.2 L251.0,263.8 L252.0,261.3 L253.0,258.9 L254.0,256.5 L255.0,254.1 L256.0,251.7 L257.0,249.4 L258.0,247.1 L259.0,244.7 L260.0,241.8 L261.0,238.6 L262.0,235.3 L263.0,231.8 L264.0,228.5 L265.0,225.1 L266.0,221.6 L267.0,218.2 L268.0,214.7 L269.0,211.3 L270.0,207.8 L271.0,204.3 L272.0,200.8 L273.0,197.3 L274.0,193.8 L275.0,190.3 L276.0,186.8 L277.0,183.3 L278.0,179.9 L279.0,176.4 L280.0,172.9 L281.0,169.4 L282.0,165.9 L283.0,162.4 L284.0,158.9 L285.0,155.6 L286.0,152.4 L287.0,149.3 L288.0,146.4 L289.0,143.7 L290.0,141.3 L291.0,139.1 L292.0,136.9 L293.0,134.6 L294.0,132.2 L295.0,129.7 L296.0,127.3 L297.0,125.1 L298.0,122.9 L299.0,120.7 L300.0,118.7 L301.0,116.8 L302.0,115.0 L303.0,113.3 L304.0,111.7 L305.0,110.1 L306.0,108.5 L307.0,107.0 L308.0,105.6 L309.0,104.3 L310.0,103.2 L311.0,102.2 L312.0,101.3 L313.0,100.5 L314.0,99.7 L315.0,98.9 L316.0,98.1 L317.0,97.4 L318.0,96.6 L319.0,95.8 L320.0,95.1 L321.0,94.4 L322.0,93.8 L323.0,93.2 L324.0,92.6 L325.0,92.0 L326.0,91.4 L327.0,90.8 L328.0,90.3 L329.0,89.8 L330.0,89.2 L331.0,88.7 L332.0,88.2 L333.0,87.7 L334.0,87.2 L335.0,86.7 L336.0,86.2 L337.0,85.8 L338.0,85.3 L339.0,84.8 L340.0,84.4 L341.0,83.9 L342.0,83.5 L343.0,83.0 L344.0,82.6 L345.0,82.2 L346.0,81.8 L347.0,81.3 L348.0,80.9 L349.0,80.5 L350.0,80.1 L351.0,79.7 L352.0,79.3 L353.0,78.9 L354.0,78.5 L355.0,78.2 L356.0,77.8 L357.0,77.4 L358.0,77.1 L359.0,76.7 L360.0,76.3 L361.0,76.0 L362.0,75.7 L363.0,75.3 L364.0,75.0 L365.0,74.6 L366.0,74.3 L367.0,74.0 L368.0,73.7 L369.0,73.4 L370.0,73.1 L371.0,72.7 L372.0,72.4 L373.0,72.1 L374.0,71.9 L375.0,71.6 L376.0,71.3 L377.0,71.0 L378.0,70.7 L379.0,70.5 L380.0,70.2 L381.0,69.9 L382.0,69.7 L383.0,69.4 L384.0,69.2 L385.0,68.9 L386.0,68.7 L387.0,68.4 L388.0,68.2 L389.0,68.0 L390.0,67.7 L391.0,67.5 L392.0,67.3 L393.0,67.0 L394.0,66.8 L395.0,66.6 L396.0,66.4 L397.0,66.1 L398.0,65.9 L399.0,65.7 L400.0,65.5 L401.0,65.3 L402.0,65.0 L403.0,64.8 L404.0,64.6 L405.0,64.4 L406.0,64.1 L407.0,63.9 L408.0,63.7 L409.0,63.5 L410.0,63.2 L411.0,63.0 L412.0,62.8 L413.0,62.6 L414.0,62.3 L415.0,62.1 L416.0,61.9 L417.0,61.7 L418.0,61.4 L419.0,61.2 L420.0,61.0 L421.0,60.8 L422.0,60.5 L423.0,60.3 L424.0,60.1 L425.0,59.8 L426.0,59.6 L427.0,59.4 L428.0,59.1 L429.0,58.9 L430.0,58.7 L431.0,58.4 L432.0,58.2 L433.0,57.9 L434.0,57.7 L435.0,57.4 L436.0,57.2 L437.0,57.0 L438.0,56.7 L439.0,56.5 L440.0,56.2 L441.0,55.9 L442.0,55.7 L443.0,55.4 L444.0,55.2 L445.0,54.9 L446.0,54.6 L447.0,54.3 L448.0,54.1 L449.0,53.8 L450.0,53.5 L451.0,53.2 L452.0,52.9 L453.0,52.6 L454.0,52.3 L455.0,52.0 L456.0,51.7 L457.0,51.4 L458.0,51.1 L459.0,50.7 L460.0,50.4 L461.0,50.1 L462.0,49.8 L463.0,49.4 L464.0,49.1 L465.0,48.8 L466.0,48.4 L467.0,48.1 L468.0,47.8 L469.0,47.4 L470.0,47.1 L471.0,46.7 L472.0,46.4 L473.0,46.1 L474.0,45.7 L475.0,45.4 L476.0,45.0 L477.0,44.7 L478.0,44.4 L479.0,44.0 L480.0,43.7 L481.0,43.4 L482.0,43.1 L483.0,42.7 L484.0,42.4 L485.0,42.1 L486.0,41.8 L487.0,41.4 L488.0,41.1 L489.0,40.8 L490.0,40.5 L491.0,40.2 L492.0,39.9 L493.0,39.6 L494.0,39.3 L495.0,38.9 L496.0,38.6 L497.0,38.3 L498.0,38.0 L499.0,37.7 L500.0,37.4 L501.0,37.1 L502.0,36.8 L503.0,36.5 L504.0,36.2 L505.0,35.9 L506.0,35.6 L507.0,35.3 L508.0,35.1 L509.0,34.8 L510.0,34.5 L511.0,34.2 L512.0,33.9 L513.0,33.6 L514.0,33.4 L515.0,33.1 L516.0,32.8 L517.0,32.5 L518.0,32.3 L519.0,32.0 L520.0,31.7 L521.0,31.5 L522.0,31.2 L523.0,31.0 L524.0,30.8 L525.0,30.5 L526.0,30.3 L527.0,30.1 L528.0,29.9 L529.0,29.7 L530.0,29.4 L531.0,29.2 L532.0,29.0 L533.0,28.8 L534.0,28.6 L535.0,28.4 L536.0,28.3 L537.0,28.1 L538.0,27.9 L539.0,27.7 L540.0,27.5 L541.0,27.3 L542.0,27.2 L543.0,27.0 L544.0,26.8 L545.0,26.6 L546.0,26.4 L547.0,26.3 L548.0,26.1 L549.0,25.9 L550.0,25.8 L551.0,25.6 L552.0,25.4 L553.0,25.3 L554.0,25.1 L555.0,24.9 L556.0,24.8 L557.0,24.6 L558.0,24.5 L559.0,24.3 L560.0,24.2 L561.0,24.0 L562.0,23.9 L563.0,23.7 L564.0,23.6 L565.0,23.4 L566.0,23.3 L567.0,23.1 L568.0,23.0 L569.0,22.9 L570.0,22.7 L571.0,22.6 L572.0,22.5 L573.0,22.4 L574.0,22.2 L575.0,22.1 L576.0,22.0 L577.0,21.9 L578.0,21.7 L579.0,21.6 L580.0,21.5 L581.0,21.4 L582.0,21.3 L583.0,21.2 L584.0,21.0 L585.0,20.9 L586.0,20.8 L587.0,20.7 L588.0,20.6 L589.0,20.5 L590.0,20.4 L591.0,20.3 L592.0,20.2 L593.0,20.1 L594.0,20.0 L595.0,19.9 L596.0,19.8 L597.0,19.6 L598.0,19.5 L599.0,19.4 L600.0,19.3 L601.0,19.2 L602.0,19.2 L603.0,19.1 L604.0,19.0 L605.0,18.9 L606.0,18.8 L607.0,18.7 L608.0,18.6 L609.0,18.5 L610.0,18.4 L611.0,18.3 L612.0,18.2 L613.0,18.2 L614.0,18.1 L615.0,18.0 L616.0,17.9 L617.0,17.8 L618.0,17.8 L619.0,17.7 L620.0,17.6 L621.0,17.5 L622.0,17.5 L623.0,17.4 L624.0,17.3 L625.0,17.3 L626.0,17.2 L627.0,17.1 L628.0,17.1 L629.0,17.0 L630.0,16.9 L631.0,16.9 L632.0,16.8 L633.0,16.8 L634.0,16.7 L635.0,16.6 L636.0,16.6 L637.0,16.5 L638.0,16.5 L639.0,16.4 L640.0,16.4 L641.0,16.3 L642.0,16.3 L643.0,16.2 L644.0,16.2 L645.0,16.1 L646.0,16.1 L647.0,16.0 L648.0,16.0 L649.0,15.9 L650.0,15.9 L651.0,15.8 L652.0,15.8 L653.0,15.8 L654.0,15.7 L655.0,15.7 L656.0,15.6 L657.0,15.6 L658.0,15.5 L659.0,15.5 L660.0,15.5 L661.0,15.4 L662.0,15.4" stroke="#1462b0"/>
<path d="M56.0,174.6 L57.0,175.2 L58.0,175.6 L59.0,175.9 L60.0,176.1 L61.0,176.2 L62.0,176.3 L63.0,176.3 L64.0,176.2 L65.0,175.8 L66.0,175.2 L67.0,174.5 L68.0,173.9 L69.0,173.4 L70.0,173.0 L71.0,172.9 L72.0,172.8 L73.0,172.7 L74.0,172.6 L75.0,172.5 L76.0,172.4 L77.0,172.2 L78.0,172.0 L79.0,171.7 L80.0,171.3 L81.0,170.9 L82.0,170.3 L83.0,169.7 L84.0,169.0 L85.0,167.9 L86.0,166.4 L87.0,163.5 L88.0,159.7 L89.0,156.2 L90.0,152.6 L91.0,149.1 L92.0,145.7 L93.0,142.6 L94.0,139.5 L95.0,136.5 L96.0,133.4 L97.0,130.3 L98.0,127.2 L99.0,124.1 L100.0,121.2 L101.0,118.3 L102.0,115.5 L103.0,112.8 L104.0,110.3 L105.0,108.1 L106.0,106.1 L107.0,104.0 L108.0,102.0 L109.0,100.0 L110.0,98.2 L111.0,96.7 L112.0,95.3 L113.0,94.0 L114.0,92.8 L115.0,91.7 L116.0,90.7 L117.0,89.9 L118.0,89.1 L119.0,88.4 L120.0,87.7 L121.0,87.2 L122.0,86.7 L123.0,86.3 L124.0,85.9 L125.0,85.5 L126.0,85.2 L127.0,85.0 L128.0,84.7 L129.0,84.5 L130.0,84.4 L131.0,84.2 L132.0,84.0 L133.0,83.8 L134.0,83.7 L135.0,83.6 L136.0,83.4 L137.0,83.3 L138.0,83.1 L139.0,83.0 L140.0,82.9 L141.0,82.8 L142.0,82.7 L143.0,82.6 L144.0,82.5 L145.0,82.5 L146.0,82.4 L147.0,82.4 L148.0,82.4 L149.0,82.5 L150.0,82.8 L151.0,83.1 L152.0,83.5 L153.0,83.9 L154.0,84.3 L155.0,84.9 L156.0,85.5 L157.0,86.1 L158.0,86.8 L159.0,87.4 L160.0,88.1 L161.0,88.7 L162.0,89.3 L163.0,90.0 L164.0,90.6 L165.0,91.4 L166.0,92.1 L167.0,92.9 L168.0,93.7 L169.0,94.6 L170.0,95.5 L171.0,96.4 L172.0,97.4 L173.0,98.4 L174.0,99.5 L175.0,100.7 L176.0,101.8 L177.0,103.0 L178.0,104.3 L179.0,105.8 L180.0,107.5 L181.0,109.6 L182.0,112.2 L183.0,114.9 L184.0,117.8 L185.0,120.9 L186.0,124.0 L187.0,126.9 L188.0,129.7 L189.0,132.5 L190.0,135.3 L191.0,138.0 L192.0,140.6 L193.0,143.2 L194.0,145.9 L195.0,148.9 L196.0,152.0 L197.0,155.3 L198.0,158.8 L199.0,162.2 L200.0,165.6 L201.0,169.4 L202.0,173.5 L203.0,178.4 L204.0,183.7 L205.0,189.0 L206.0,193.9 L207.0,198.6 L208.0,203.3 L209.0,207.8 L210.0,212.2 L211.0,216.5 L212.0,220.9 L213.0,225.5 L214.0,230.7 L215.0,236.1 L216.0,241.1 L217.0,245.4 L218.0,249.3 L219.0,253.0 L220.0,257.1 L221.0,261.6 L222.0,266.0 L223.0,270.2 L224.0,274.5 L225.0,278.7 L226.0,282.6 L227.0,285.9 L228.0,288.3 L229.0,290.2 L230.0,292.0 L231.0,293.6 L232.0,294.9 L233.0,295.9 L234.0,296.6 L235.0,297.2 L236.0,297.7 L237.0,298.1 L238.0,298.4 L239.0,298.5 L240.0,298.5 L241.0,298.1 L242.0,297.1 L243.0,295.9 L244.0,294.5 L245.0,293.1 L246.0,291.5 L247.0,289.5 L248.0,287.4 L249.0,285.2 L250.0,282.7 L251.0,280.1 L252.0,277.4 L253.0,274.8 L254.0,272.2 L255.0,269.6 L256.0,267.0 L257.0,264.5 L258.0,262.1 L259.0,259.4 L260.0,256.2 L261.0,252.7 L262.0,249.0 L263.0,245.3 L264.0,241.6 L265.0,237.8 L266.0,234.0 L267.0,230.2 L268.0,226.4 L269.0,222.5 L270.0,218.7 L271.0,214.8 L272.0,210.9 L273.0,207.0 L274.0,203.1 L275.0,199.2 L276.0,195.4 L277.0,191.5 L278.0,187.7 L279.0,183.8 L280.0,179.9 L281.0,176.0 L282.0,172.0 L283.0,168.1 L284.0,164.2 L285.0,160.5 L286.0,156.8 L287.0,153.3 L288.0,150.0 L289.0,147.0 L290.0,144.2 L291.0,141.6 L292.0,139.0 L293.0,136.2 L294.0,133.4 L295.0,130.5 L296.0,127.7 L297.0,125.0 L298.0,122.5 L299.0,120.0 L300.0,117.6 L301.0,115.3 L302.0,113.1 L303.0,110.9 L304.0,108.8 L305.0,106.8 L306.0,104.8 L307.0,102.8 L308.0,100.9 L309.0,99.2 L310.0,97.6 L311.0,96.2 L312.0,94.9 L313.0,93.7 L314.0,92.4 L315.0,91.3 L316.0,90.1 L317.0,88.9 L318.0,87.7 L319.0,86.6 L320.0,85.4 L321.0,84.3 L322.0,83.3 L323.0,82.2 L324.0,81.2 L325.0,80.2 L326.0,79.3 L327.0,78.3 L328.0,77.4 L329.0,76.4 L330.0,75.5 L331.0,74.6 L332.0,73.7 L333.0,72.8 L334.0,72.0 L335.0,71.1 L336.0,70.3 L337.0,69.5 L338.0,68.7 L339.0,67.9 L340.0,67.1 L341.0,66.3 L342.0,65.5 L343.0,64.8 L344.0,64.1 L345.0,63.4 L346.0,62.7 L347.0,62.0 L348.0,61.3 L349.0,60.6 L350.0,60.0 L351.0,59.4 L352.0,58.8 L353.0,58.2 L354.0,57.6 L355.0,57.0 L356.0,56.5 L357.0,55.9 L358.0,55.4 L359.0,54.9 L360.0,54.4 L361.0,53.9 L362.0,53.4 L363.0,53.0 L364.0,52.5 L365.0,52.1 L366.0,51.6 L367.0,51.2 L368.0,50.8 L369.0,50.4 L370.0,50.0 L371.0,49.6 L372.0,49.3 L373.0,48.9 L374.0,48.5 L375.0,48.2 L376.0,47.9 L377.0,47.5 L378.0,47.2 L379.0,46.9 L380.0,46.6 L381.0,46.3 L382.0,46.0 L383.0,45.7 L384.0,45.4 L385.0,45.1 L386.0,44.9 L387.0,44.6 L388.0,44.3 L389.0,44.1 L390.0,43.8 L391.0,43.6 L392.0,43.3 L393.0,43.1 L394.0,42.8 L395.0,42.6 L396.0,42.3 L397.0,42.1 L398.0,41.9 L399.0,41.6 L400.0,41.4 L401.0,41.2 L402.0,40.9 L403.0,40.7 L404.0,40.5 L405.0,40.3 L406.0,40.1 L407.0,39.8 L408.0,39.6 L409.0,39.4 L410.0,39.2 L411.0,39.0 L412.0,38.8 L413.0,38.5 L414.0,38.3 L415.0,38.1 L416.0,37.9 L417.0,37.7 L418.0,37.5 L419.0,37.3 L420.0,37.1 L421.0,36.9 L422.0,36.7 L423.0,36.5 L424.0,36.3 L425.0,36.1 L426.0,35.9 L427.0,35.7 L428.0,35.5 L429.0,35.3 L430.0,35.2 L431.0,35.0 L432.0,34.8 L433.0,34.6 L434.0,34.4 L435.0,34.2 L436.0,34.1 L437.0,33.9 L438.0,33.7 L439.0,33.6 L440.0,33.4 L441.0,33.2 L442.0,33.0 L443.0,32.9 L444.0,32.7 L445.0,32.6 L446.0,32.4 L447.0,32.2 L448.0,32.1 L449.0,31.9 L450.0,31.8 L451.0,31.6 L452.0,31.4 L453.0,31.3 L454.0,31.1 L455.0,30.9 L456.0,30.8 L457.0,30.6 L458.0,30.4 L459.0,30.2 L460.0,30.0 L461.0,29.9 L462.0,29.7 L463.0,29.5 L464.0,29.3 L465.0,29.1 L466.0,29.0 L467.0,28.8 L468.0,28.6 L469.0,28.4 L470.0,28.3 L471.0,28.1 L472.0,27.9 L473.0,27.7 L474.0,27.6 L475.0,27.4 L476.0,27.2 L477.0,27.1 L478.0,26.9 L479.0,26.7 L480.0,26.6 L481.0,26.4 L482.0,26.3 L483.0,26.1 L484.0,26.0 L485.0,25.8 L486.0,25.7 L487.0,25.5 L488.0,25.4 L489.0,25.3 L490.0,25.1 L491.0,25.0 L492.0,24.8 L493.0,24.7 L494.0,24.6 L495.0,24.4 L496.0,24.3 L497.0,24.2 L498.0,24.1 L499.0,23.9 L500.0,23.8 L501.0,23.7 L502.0,23.5 L503.0,23.4 L504.0,23.3 L505.0,23.2 L506.0,23.1 L507.0,22.9 L508.0,22.8 L509.0,22.7 L510.0,22.6 L511.0,22.5 L512.0,22.3 L513.0,22.2 L514.0,22.1 L515.0,22.0 L516.0,21.9 L517.0,21.8 L518.0,21.7 L519.0,21.6 L520.0,21.5 L521.0,21.4 L522.0,21.3 L523.0,21.2 L524.0,21.1 L525.0,21.0 L526.0,20.9 L527.0,20.8 L528.0,20.7 L529.0,20.6 L530.0,20.5 L531.0,20.4 L532.0,20.4 L533.0,20.3 L534.0,20.2 L535.0,20.1 L536.0,20.0 L537.0,20.0 L538.0,19.9 L539.0,19.8 L540.0,19.7 L541.0,19.6 L542.0,19.5 L543.0,19.5 L544.0,19.4 L545.0,19.3 L546.0,19.2 L547.0,19.1 L548.0,19.1 L549.0,19.0 L550.0,18.9 L551.0,18.8 L552.0,18.8 L553.0,18.7 L554.0,18.6 L555.0,18.5 L556.0,18.5 L557.0,18.4 L558.0,18.3 L559.0,18.2 L560.0,18.2 L561.0,18.1 L562.0,18.0 L563.0,18.0 L564.0,17.9 L565.0,17.8 L566.0,17.8 L567.0,17.7 L568.0,17.6 L569.0,17.6 L570.0,17.5 L571.0,17.5 L572.0,17.4 L573.0,17.4 L574.0,17.3 L575.0,17.2 L576.0,17.2 L577.0,17.1 L578.0,17.1 L579.0,17.0 L580.0,17.0 L581.0,16.9 L582.0,16.9 L583.0,16.8 L584.0,16.8 L585.0,16.7 L586.0,16.7 L587.0,16.6 L588.0,16.6 L589.0,16.5 L590.0,16.5 L591.0,16.4 L592.0,16.4 L593.0,16.3 L594.0,16.3 L595.0,16.2 L596.0,16.2 L597.0,16.1 L598.0,16.1 L599.0,16.0 L600.0,16.0 L601.0,15.9 L602.0,15.9 L603.0,15.8 L604.0,15.7 L605.0,15.7 L606.0,15.6 L607.0,15.6 L608.0,15.5 L609.0,15.5 L610.0,15.5 L611.0,15.4 L612.0,15.4 L613.0,15.3 L614.0,15.3 L615.0,15.2 L616.0,15.2 L617.0,15.1 L618.0,15.1 L619.0,15.0 L620.0,15.0 L621.0,14.9 L622.0,14.9 L623.0,14.9 L624.0,14.8 L625.0,14.8 L626.0,14.7 L627.0,14.7 L628.0,14.7 L629.0,14.6 L630.0,14.6 L631.0,14.6 L632.0,14.5 L633.0,14.5 L634.0,14.5 L635.0,14.4 L636.0,14.4 L637.0,14.4 L638.0,14.3 L639.0,14.3 L640.0,14.3 L641.0,14.2 L642.0,14.2 L643.0,14.2 L644.0,14.2 L645.0,14.1 L646.0,14.1 L647.0,14.1 L648.0,14.0 L649.0,14.0 L650.0,14.0 L651.0,14.0 L652.0,13.9 L653.0,13.9 L654.0,13.9 L655.0,13.9 L656.0,13.8 L657.0,13.8 L658.0,13.8 L659.0,13.8 L660.0,13.7 L661.0,13.7 L662.0,13.7" stroke="#dc7016"/>
<path d="M56.0,170.9 L57.0,171.4 L58.0,171.9 L59.0,172.2 L60.0,172.4 L61.0,172.5 L62.0,172.6 L63.0,172.6 L64.0,172.4 L65.0,172.0 L66.0,171.4 L67.0,170.7 L68.0,170.1 L69.0,169.5 L70.0,169.2 L71.0,169.0 L72.0,168.9 L73.0,168.8 L74.0,168.8 L75.0,168.7 L76.0,168.6 L77.0,168.4 L78.0,168.2 L79.0,167.9 L80.0,167.5 L81.0,167.0 L82.0,166.5 L83.0,165.9 L84.0,165.1 L85.0,164.0 L86.0,162.5 L87.0,159.4 L88.0,155.5 L89.0,151.9 L90.0,148.1 L91.0,144.5 L92.0,141.0 L93.0,137.7 L94.0,134.5 L95.0,131.4 L96.0,128.2 L97.0,124.9 L98.0,121.7 L99.0,118.5 L100.0,115.4 L101.0,112.4 L102.0,109.5 L103.0,106.7 L104.0,104.1 L105.0,101.8 L106.0,99.7 L107.0,97.6 L108.0,95.5 L109.0,93.5 L110.0,91.7 L111.0,90.1 L112.0,88.7 L113.0,87.4 L114.0,86.2 L115.0,85.1 L116.0,84.2 L117.0,83.4 L118.0,82.6 L119.0,82.0 L120.0,81.4 L121.0,80.9 L122.0,80.5 L123.0,80.2 L124.0,79.9 L125.0,79.6 L126.0,79.4 L127.0,79.3 L128.0,79.1 L129.0,79.0 L130.0,78.9 L131.0,78.9 L132.0,78.8 L133.0,78.7 L134.0,78.7 L135.0,78.7 L136.0,78.7 L137.0,78.6 L138.0,78.6 L139.0,78.6 L140.0,78.6 L141.0,78.6 L142.0,78.6 L143.0,78.6 L144.0,78.7 L145.0,78.7 L146.0,78.8 L147.0,78.9 L148.0,79.0 L149.0,79.2 L150.0,79.6 L151.0,80.1 L152.0,80.6 L153.0,81.1 L154.0,81.7 L155.0,82.4 L156.0,83.1 L157.0,83.8 L158.0,84.5 L159.0,85.3 L160.0,86.0 L161.0,86.7 L162.0,87.4 L163.0,88.1 L164.0,88.8 L165.0,89.6 L166.0,90.4 L167.0,91.2 L168.0,92.1 L169.0,93.0 L170.0,93.9 L171.0,94.9 L172.0,95.9 L173.0,96.9 L174.0,98.0 L175.0,99.2 L176.0,100.4 L177.0,101.6 L178.0,102.9 L179.0,104.3 L180.0,106.0 L181.0,108.1 L182.0,110.7 L183.0,113.5 L184.0,116.4 L185.0,119.5 L186.0,122.5 L187.0,125.4 L188.0,128.2 L189.0,130.9 L190.0,133.7 L191.0,136.4 L192.0,138.9 L193.0,141.5 L194.0,144.2 L195.0,147.1 L196.0,150.2 L197.0,153.5 L198.0,157.0 L199.0,160.4 L200.0,163.8 L201.0,167.6 L202.0,171.8 L203.0,176.7 L204.0,182.1 L205.0,187.4 L206.0,192.5 L207.0,197.4 L208.0,202.2 L209.0,207.0 L210.0,211.6 L211.0,216.1 L212.0,220.7 L213.0,225.5 L214.0,230.9 L215.0,236.6 L216.0,242.0 L217.0,246.7 L218.0,250.8 L219.0,254.8 L220.0,259.3 L221.0,264.0 L222.0,268.8 L223.0,273.2 L224.0,277.8 L225.0,282.4 L226.0,286.6 L227.0,290.1 L228.0,292.7 L229.0,294.9 L230.0,296.8 L231.0,298.6 L232.0,300.0 L233.0,301.2 L234.0,302.0 L235.0,302.6 L236.0,303.2 L237.0,303.7 L238.0,304.1 L239.0,304.3 L240.0,304.4 L241.0,304.0 L242.0,303.1 L243.0,301.8 L244.0,300.4 L245.0,299.0 L246.0,297.4 L247.0,295.4 L248.0,293.2 L249.0,290.9 L250.0,288.4 L251.0,285.8 L252.0,283.0 L253.0,280.3 L254.0,277.7 L255.0,275.0 L256.0,272.4 L257.0,269.8 L258.0,267.3 L259.0,264.5 L260.0,261.3 L261.0,257.6 L262.0,253.8 L263.0,249.9 L264.0,246.1 L265.0,242.2 L266.0,238.3 L267.0,234.4 L268.0,230.4 L269.0,226.4 L270.0,222.4 L271.0,218.4 L272.0,214.4 L273.0,210.4 L274.0,206.4 L275.0,202.3 L276.0,198.3 L277.0,194.4 L278.0,190.4 L279.0,186.4 L280.0,182.4 L281.0,178.3 L282.0,174.2 L283.0,170.1 L284.0,166.1 L285.0,162.2 L286.0,158.4 L287.0,154.7 L288.0,151.3 L289.0,148.1 L290.0,145.2 L291.0,142.5 L292.0,139.7 L293.0,136.8 L294.0,133.8 L295.0,130.8 L296.0,127.8 L297.0,125.0 L298.0,122.3 L299.0,119.7 L300.0,117.2 L301.0,114.8 L302.0,112.4 L303.0,110.1 L304.0,107.9 L305.0,105.7 L306.0,103.5 L307.0,101.3 L308.0,99.3 L309.0,97.4 L310.0,95.7 L311.0,94.2 L312.0,92.7 L313.0,91.3 L314.0,89.9 L315.0,88.6 L316.0,87.3 L317.0,86.0 L318.0,84.6 L319.0,83.3 L320.0,82.0 L321.0,80.8 L322.0,79.6 L323.0,78.4 L324.0,77.3 L325.0,76.2 L326.0,75.0 L327.0,73.9 L328.0,72.9 L329.0,71.8 L330.0,70.7 L331.0,69.7 L332.0,68.7 L333.0,67.7 L334.0,66.7 L335.0,65.7 L336.0,64.8 L337.0,63.8 L338.0,62.9 L339.0,62.0 L340.0,61.1 L341.0,60.2 L342.0,59.3 L343.0,58.5 L344.0,57.6 L345.0,56.8 L346.0,56.0 L347.0,55.2 L348.0,54.5 L349.0,53.7 L350.0,53.0 L351.0,52.3 L352.0,51.6 L353.0,51.0 L354.0,50.3 L355.0,49.7 L356.0,49.1 L357.0,48.5 L358.0,47.9 L359.0,47.3 L360.0,46.8 L361.0,46.2 L362.0,45.7 L363.0,45.2 L364.0,44.7 L365.0,44.2 L366.0,43.8 L367.0,43.3 L368.0,42.9 L369.0,42.4 L370.0,42.0 L371.0,41.6 L372.0,41.2 L373.0,40.8 L374.0,40.4 L375.0,40.1 L376.0,39.7 L377.0,39.4 L378.0,39.0 L379.0,38.7 L380.0,38.4 L381.0,38.1 L382.0,37.8 L383.0,37.5 L384.0,37.2 L385.0,36.9 L386.0,36.6 L387.0,36.3 L388.0,36.0 L389.0,35.8 L390.0,35.5 L391.0,35.2 L392.0,35.0 L393.0,34.7 L394.0,34.5 L395.0,34.2 L396.0,34.0 L397.0,33.8 L398.0,33.5 L399.0,33.3 L400.0,33.0 L401.0,32.8 L402.0,32.6 L403.0,32.4 L404.0,32.1 L405.0,31.9 L406.0,31.7 L407.0,31.5 L408.0,31.3 L409.0,31.0 L410.0,30.8 L411.0,30.6 L412.0,30.4 L413.0,30.2 L414.0,30.0 L415.0,29.8 L416.0,29.6 L417.0,29.4 L418.0,29.2 L419.0,29.0 L420.0,28.8 L421.0,28.6 L422.0,28.4 L423.0,28.2 L424.0,28.0 L425.0,27.9 L426.0,27.7 L427.0,27.5 L428.0,27.3 L429.0,27.2 L430.0,27.0 L431.0,26.8 L432.0,26.7 L433.0,26.5 L434.0,26.3 L435.0,26.2 L436.0,26.0 L437.0,25.9 L438.0,25.7 L439.0,25.6 L440.0,25.5 L441.0,25.3 L442.0,25.2 L443.0,25.1 L444.0,24.9 L445.0,24.8 L446.0,24.7 L447.0,24.6 L448.0,24.4 L449.0,24.3 L450.0,24.2 L451.0,24.1 L452.0,24.0 L453.0,23.8 L454.0,23.7 L455.0,23.6 L456.0,23.5 L457.0,23.4 L458.0,23.2 L459.0,23.1 L460.0,23.0 L461.0,22.8 L462.0,22.7 L463.0,22.6 L464.0,22.5 L465.0,22.3 L466.0,22.2 L467.0,22.1 L468.0,22.0 L469.0,21.8 L470.0,21.7 L471.0,21.6 L472.0,21.5 L473.0,21.4 L474.0,21.3 L475.0,21.2 L476.0,21.1 L477.0,20.9 L478.0,20.8 L479.0,20.7 L480.0,20.6 L481.0,20.5 L482.0,20.5 L483.0,20.4 L484.0,20.3 L485.0,20.2 L486.0,20.1 L487.0,20.0 L488.0,19.9 L489.0,19.9 L490.0,19.8 L491.0,19.7 L492.0,19.6 L493.0,19.5 L494.0,19.5 L495.0,19.4 L496.0,19.3 L497.0,19.3 L498.0,19.2 L499.0,19.1 L500.0,19.1 L501.0,19.0 L502.0,18.9 L503.0,18.9 L504.0,18.8 L505.0,18.8 L506.0,18.7 L507.0,18.6 L508.0,18.6 L509.0,18.5 L510.0,18.4 L511.0,18.4 L512.0,18.3 L513.0,18.3 L514.0,18.2 L515.0,18.2 L516.0,18.1 L517.0,18.1 L518.0,18.0 L519.0,17.9 L520.0,17.9 L521.0,17.8 L522.0,17.8 L523.0,17.7 L524.0,17.7 L525.0,17.7 L526.0,17.6 L527.0,17.6 L528.0,17.5 L529.0,17.5 L530.0,17.4 L531.0,17.4 L532.0,17.3 L533.0,17.3 L534.0,17.3 L535.0,17.2 L536.0,17.2 L537.0,17.1 L538.0,17.1 L539.0,17.0 L540.0,17.0 L541.0,17.0 L542.0,16.9 L543.0,16.9 L544.0,16.8 L545.0,16.8 L546.0,16.7 L547.0,16.7 L548.0,16.6 L549.0,16.6 L550.0,16.5 L551.0,16.5 L552.0,16.4 L553.0,16.4 L554.0,16.3 L555.0,16.3 L556.0,16.3 L557.0,16.2 L558.0,16.2 L559.0,16.1 L560.0,16.1 L561.0,16.0 L562.0,16.0 L563.0,16.0 L564.0,15.9 L565.0,15.9 L566.0,15.9 L567.0,15.8 L568.0,15.8 L569.0,15.7 L570.0,15.7 L571.0,15.7 L572.0,15.6 L573.0,15.6 L574.0,15.6 L575.0,15.6 L576.0,15.5 L577.0,15.5 L578.0,15.5 L579.0,15.4 L580.0,15.4 L581.0,15.4 L582.0,15.3 L583.0,15.3 L584.0,15.3 L585.0,15.3 L586.0,15.2 L587.0,15.2 L588.0,15.2 L589.0,15.1 L590.0,15.1 L591.0,15.1 L592.0,15.0 L593.0,15.0 L594.0,15.0 L595.0,14.9 L596.0,14.9 L597.0,14.9 L598.0,14.8 L599.0,14.8 L600.0,14.8 L601.0,14.7 L602.0,14.7 L603.0,14.7 L604.0,14.6 L605.0,14.6 L606.0,14.6 L607.0,14.5 L608.0,14.5 L609.0,14.5 L610.0,14.4 L611.0,14.4 L612.0,14.4 L613.0,14.3 L614.0,14.3 L615.0,14.2 L616.0,14.2 L617.0,14.2 L618.0,14.1 L619.0,14.1 L620.0,14.1 L621.0,14.1 L622.0,14.0 L623.0,14.0 L624.0,14.0 L625.0,13.9 L626.0,13.9 L627.0,13.9 L628.0,13.8 L629.0,13.8 L630.0,13.8 L631.0,13.8 L632.0,13.7 L633.0,13.7 L634.0,13.7 L635.0,13.7 L636.0,13.6 L637.0,13.6 L638.0,13.6 L639.0,13.6 L640.0,13.5 L641.0,13.5 L642.0,13.5 L643.0,13.5 L644.0,13.5 L645.0,13.4 L646.0,13.4 L647.0,13.4 L648.0,13.4 L649.0,13.4 L650.0,13.3 L651.0,13.3 L652.0,13.3 L653.0,13.3 L654.0,13.3 L655.0,13.2 L656.0,13.2 L657.0,13.2 L658.0,13.2 L659.0,13.2 L660.0,13.1 L661.0,13.1 L662.0,13.1" stroke="#f6c70a"/>
</g>
<g stroke-width="1.7" fill="none">
<line x1="238.9" y1="7" x2="238.9" y2="313" stroke="#8b2a1c" stroke-dasharray="5,4.75" stroke-dashoffset="2.85"/>
<line x1="404" y1="8.9" x2="404" y2="306.5" stroke="#1c1c96" stroke-dasharray="5,4.75"/>
</g>
<g stroke="#858585" stroke-width="1.5" fill="none">
<rect x="56.2" y="6.7" width="606.2" height="307.1"/>
<line x1="157.5" y1="313.5" x2="157.5" y2="307.5"/>
<line x1="157.5" y1="6.5" x2="157.5" y2="12.5"/>
<line x1="258.5" y1="313.5" x2="258.5" y2="307.5"/>
<line x1="258.5" y1="6.5" x2="258.5" y2="12.5"/>
<line x1="359.5" y1="313.5" x2="359.5" y2="307.5"/>
<line x1="359.5" y1="6.5" x2="359.5" y2="12.5"/>
<line x1="460.5" y1="313.5" x2="460.5" y2="307.5"/>
<line x1="460.5" y1="6.5" x2="460.5" y2="12.5"/>
<line x1="561.5" y1="313.5" x2="561.5" y2="307.5"/>
<line x1="561.5" y1="6.5" x2="561.5" y2="12.5"/>
<line x1="56.5" y1="252.3" x2="62.5" y2="252.3"/>
<line x1="662.5" y1="252.3" x2="656.5" y2="252.3"/>
<line x1="56.5" y1="190.9" x2="62.5" y2="190.9"/>
<line x1="662.5" y1="190.9" x2="656.5" y2="190.9"/>
<line x1="56.5" y1="129.5" x2="62.5" y2="129.5"/>
<line x1="662.5" y1="129.5" x2="656.5" y2="129.5"/>
<line x1="56.5" y1="68.1" x2="62.5" y2="68.1"/>
<line x1="662.5" y1="68.1" x2="656.5" y2="68.1"/>
</g>
<g font-size="14.5" font-weight="bold" fill="#111">
<text x="56.5" y="331.6" text-anchor="middle" textLength="22.4" lengthAdjust="spacingAndGlyphs">400</text>
<text x="157.5" y="331.6" text-anchor="middle" textLength="22.4" lengthAdjust="spacingAndGlyphs">450</text>
<text x="258.5" y="331.6" text-anchor="middle" textLength="22.4" lengthAdjust="spacingAndGlyphs">500</text>
<text x="359.5" y="331.6" text-anchor="middle" textLength="22.4" lengthAdjust="spacingAndGlyphs">550</text>
<text x="460.5" y="331.6" text-anchor="middle" textLength="22.4" lengthAdjust="spacingAndGlyphs">600</text>
<text x="561.5" y="331.6" text-anchor="middle" textLength="22.4" lengthAdjust="spacingAndGlyphs">650</text>
<text x="662.5" y="331.6" text-anchor="middle" textLength="22.4" lengthAdjust="spacingAndGlyphs">700</text>
<text x="53.2" y="319.1" text-anchor="end">0</text>
<text x="53.2" y="257.8" text-anchor="end" textLength="19.2" lengthAdjust="spacingAndGlyphs">0.2</text>
<text x="53.2" y="196.4" text-anchor="end" textLength="19.2" lengthAdjust="spacingAndGlyphs">0.4</text>
<text x="53.2" y="135.0" text-anchor="end" textLength="19.2" lengthAdjust="spacingAndGlyphs">0.6</text>
<text x="53.2" y="73.6" text-anchor="end" textLength="19.2" lengthAdjust="spacingAndGlyphs">0.8</text>
<text x="53.2" y="12.4" text-anchor="end">1</text>
</g>
<text x="359" y="352.5" text-anchor="middle" font-size="16.5" font-weight="bold" fill="#111">Wavelength (nm)</text>
<text transform="translate(14.8,160.5) rotate(-90)" text-anchor="middle" font-size="16.5" font-weight="bold" fill="#111">Transmittance (a.u.)</text>
<g>
<rect x="590.5" y="158.5" width="55" height="142.5" fill="#fff" stroke="#555" stroke-width="1"/>
<g font-size="10.4" fill="#111">
<line x1="592.5" y1="166.3" x2="608" y2="166.3" stroke="#e00a0e" stroke-width="3"/>
<text x="609.8" y="170.6">0 deg</text>
<line x1="592.5" y1="180.5" x2="608" y2="180.5" stroke="#a812a8" stroke-width="3"/>
<text x="609.8" y="184.8">10 deg</text>
<line x1="592.5" y1="194.7" x2="608" y2="194.7" stroke="#7a4852" stroke-width="3"/>
<text x="609.8" y="199.0">20 deg</text>
<line x1="592.5" y1="209.0" x2="608" y2="209.0" stroke="#62146e" stroke-width="3"/>
<text x="609.8" y="213.3">30 deg</text>
<line x1="592.5" y1="223.2" x2="608" y2="223.2" stroke="#68a22c" stroke-width="3"/>
<text x="609.8" y="227.5">40 deg</text>
<line x1="592.5" y1="237.4" x2="608" y2="237.4" stroke="#3ea8de" stroke-width="3"/>
<text x="609.8" y="241.7">50 deg</text>
<line x1="592.5" y1="251.6" x2="608" y2="251.6" stroke="#940c26" stroke-width="3"/>
<text x="609.8" y="255.9">60 deg</text>
<line x1="592.5" y1="265.8" x2="608" y2="265.8" stroke="#1462b0" stroke-width="3"/>
<text x="609.8" y="270.1">70 deg</text>
<line x1="592.5" y1="280.1" x2="608" y2="280.1" stroke="#dc7016" stroke-width="3"/>
<text x="609.8" y="284.4">80 deg</text>
<line x1="592.5" y1="294.3" x2="608" y2="294.3" stroke="#f6c70a" stroke-width="3"/>
<text x="609.8" y="298.6">90 deg</text>
</g>
</g>
<text x="301.6" y="26.2" font-size="18.6" fill="#111" textLength="57.5" lengthAdjust="spacingAndGlyphs">&#934;=90</text>
<text x="468.8" y="297.3" font-size="18.6" fill="#111" textLength="44.6" lengthAdjust="spacingAndGlyphs">&#934;=0</text>
<line x1="353.4" y1="26.5" x2="368.7" y2="35.6" stroke="#333" stroke-width="0.9"/><path d="M372.60,38.00 L365.48,36.65 L368.65,35.64 L368.05,32.36 Z" fill="#111"/>
<line x1="481.0" y1="280.2" x2="461.0" y2="270.5" stroke="#333" stroke-width="0.9"/><path d="M456.90,268.50 L464.11,269.22 L461.04,270.51 L461.93,273.72 Z" fill="#111"/>
</svg>
</body></html>
